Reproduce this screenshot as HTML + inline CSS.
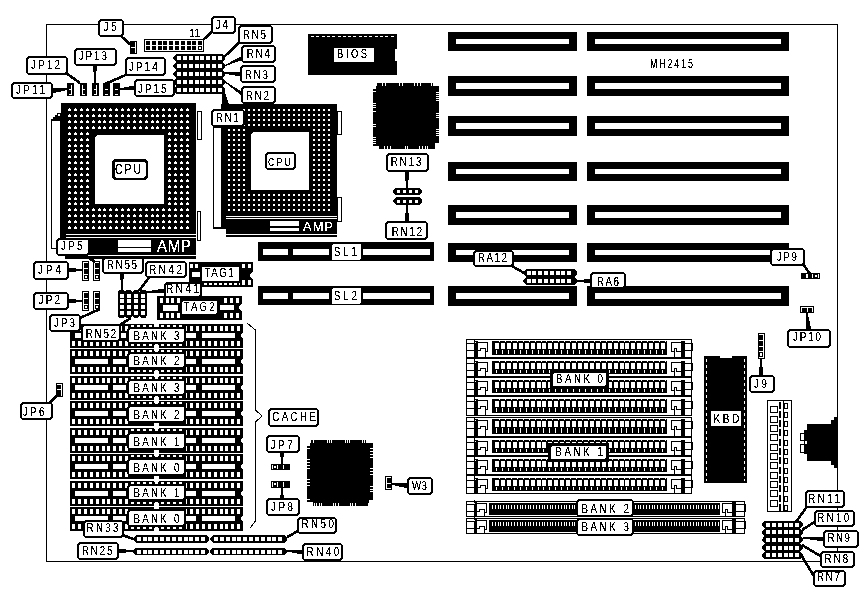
<!DOCTYPE html>
<html><head><meta charset="utf-8"><style>
html,body{margin:0;padding:0;background:#fff;}
body{width:868px;height:603px;overflow:hidden;}
svg{display:block;}
text{font-family:"Liberation Sans",sans-serif;filter:url(#th);}
</style></head><body>
<svg width="868" height="603" viewBox="0 0 868 603" shape-rendering="crispEdges">
<defs><filter id="th" x="-10%" y="-10%" width="120%" height="120%" color-interpolation-filters="sRGB"><feColorMatrix type="matrix" values="0 0 0 0 0  0 0 0 0 0  0 0 0 0 0  -0.333 -0.333 -0.333 1 0"/><feComponentTransfer><feFuncA type="discrete" tableValues="0 0 0 0 0 0 0 0 1 1 1 1 1 1 1 1 1 1 1 1"/></feComponentTransfer></filter>
<filter id="thw" x="-10%" y="-10%" width="120%" height="120%" color-interpolation-filters="sRGB"><feColorMatrix type="matrix" values="0 0 0 0 1  0 0 0 0 1  0 0 0 0 1  0 0 0 1 0"/><feComponentTransfer><feFuncA type="discrete" tableValues="0 0 0 0 0 0 0 0 1 1 1 1 1 1 1 1 1 1 1 1"/></feComponentTransfer></filter></defs>
<rect x="0" y="0" width="868" height="603" fill="#fff"/>
<rect x="46.5" y="24.5" width="791" height="537" fill="none" stroke="#000" stroke-width="1" rx="0"/>
<rect x="448" y="32" width="129" height="19" fill="#000"/>
<rect x="456" y="39" width="113" height="5" fill="#fff"/>
<rect x="587" y="32" width="202" height="19" fill="#000"/>
<rect x="595" y="39" width="186" height="5" fill="#fff"/>
<rect x="448" y="76" width="129" height="20" fill="#000"/>
<rect x="456" y="83" width="113" height="6" fill="#fff"/>
<rect x="587" y="76" width="202" height="20" fill="#000"/>
<rect x="595" y="83" width="186" height="6" fill="#fff"/>
<rect x="448" y="116" width="129" height="20" fill="#000"/>
<rect x="456" y="123" width="113" height="6" fill="#fff"/>
<rect x="587" y="116" width="202" height="20" fill="#000"/>
<rect x="595" y="123" width="186" height="6" fill="#fff"/>
<rect x="448" y="162" width="129" height="19" fill="#000"/>
<rect x="456" y="169" width="113" height="5" fill="#fff"/>
<rect x="587" y="162" width="202" height="19" fill="#000"/>
<rect x="595" y="169" width="186" height="5" fill="#fff"/>
<rect x="448" y="205" width="129" height="20" fill="#000"/>
<rect x="456" y="212" width="113" height="6" fill="#fff"/>
<rect x="587" y="205" width="202" height="20" fill="#000"/>
<rect x="595" y="212" width="186" height="6" fill="#fff"/>
<rect x="448" y="243" width="129" height="19" fill="#000"/>
<rect x="456" y="250" width="113" height="5" fill="#fff"/>
<rect x="587" y="243" width="202" height="19" fill="#000"/>
<rect x="595" y="250" width="186" height="5" fill="#fff"/>
<rect x="448" y="286" width="129" height="20" fill="#000"/>
<rect x="456" y="293" width="113" height="6" fill="#fff"/>
<rect x="587" y="286" width="202" height="20" fill="#000"/>
<rect x="595" y="293" width="186" height="6" fill="#fff"/>
<rect x="258" y="242" width="176" height="19" fill="#000"/>
<rect x="263" y="249" width="25" height="6" fill="#fff"/>
<rect x="293" y="249" width="36" height="6" fill="#fff"/>
<rect x="363" y="249" width="67" height="6" fill="#fff"/>
<rect x="332" y="244" width="29" height="16" rx="2" fill="#fff"/>
<text transform="matrix(0.75,0,0,1,334,256)" x="0" y="0" font-size="13" fill="#000" textLength="30.67" lengthAdjust="spacing">SL1</text>
<rect x="258" y="286" width="176" height="19" fill="#000"/>
<rect x="263" y="293" width="25" height="6" fill="#fff"/>
<rect x="293" y="293" width="36" height="6" fill="#fff"/>
<rect x="363" y="293" width="67" height="6" fill="#fff"/>
<rect x="332" y="288" width="29" height="16" rx="2" fill="#fff"/>
<text transform="matrix(0.75,0,0,1,334,300)" x="0" y="0" font-size="13" fill="#000" textLength="30.67" lengthAdjust="spacing">SL2</text>
<polygon points="51,119 53,119 53,117 55,117 55,115 57,115 57,113 61,113 61,240 51,240" fill="#000"/>
<rect x="52" y="121" width="8" height="119" fill="#fff"/>
<rect x="58" y="114" width="2" height="2" fill="#fff"/>
<polyline points="51.5,238 51.5,248.5 57,248.5" fill="none" stroke="#000" stroke-width="1" stroke-linejoin="miter"/>
<rect x="61" y="103" width="135" height="153" fill="#000"/>
<rect x="65" y="256" width="131" height="3" fill="#000"/>
<path d="M68 109h3v2h-3zM69 108h1v1h-1zM74 109h3v2h-3zM75 108h1v1h-1zM80 109h3v2h-3zM81 108h1v1h-1zM86 109h3v2h-3zM87 108h1v1h-1zM92 109h3v2h-3zM93 108h1v1h-1zM98 109h3v2h-3zM99 108h1v1h-1zM103 109h3v2h-3zM104 108h1v1h-1zM109 109h3v2h-3zM110 108h1v1h-1zM115 109h3v2h-3zM116 108h1v1h-1zM121 109h3v2h-3zM122 108h1v1h-1zM127 109h3v2h-3zM128 108h1v1h-1zM133 109h3v2h-3zM134 108h1v1h-1zM139 109h3v2h-3zM140 108h1v1h-1zM145 109h3v2h-3zM146 108h1v1h-1zM151 109h3v2h-3zM152 108h1v1h-1zM156 109h3v2h-3zM157 108h1v1h-1zM162 109h3v2h-3zM163 108h1v1h-1zM168 109h3v2h-3zM169 108h1v1h-1zM174 109h3v2h-3zM175 108h1v1h-1zM180 109h3v2h-3zM181 108h1v1h-1zM186 109h3v2h-3zM187 108h1v1h-1zM68 115h3v2h-3zM69 114h1v1h-1zM74 115h3v2h-3zM75 114h1v1h-1zM80 115h3v2h-3zM81 114h1v1h-1zM86 115h3v2h-3zM87 114h1v1h-1zM92 115h3v2h-3zM93 114h1v1h-1zM98 115h3v2h-3zM99 114h1v1h-1zM103 115h3v2h-3zM104 114h1v1h-1zM109 115h3v2h-3zM110 114h1v1h-1zM115 115h3v2h-3zM116 114h1v1h-1zM121 115h3v2h-3zM122 114h1v1h-1zM127 115h3v2h-3zM128 114h1v1h-1zM133 115h3v2h-3zM134 114h1v1h-1zM139 115h3v2h-3zM140 114h1v1h-1zM145 115h3v2h-3zM146 114h1v1h-1zM151 115h3v2h-3zM152 114h1v1h-1zM156 115h3v2h-3zM157 114h1v1h-1zM162 115h3v2h-3zM163 114h1v1h-1zM168 115h3v2h-3zM169 114h1v1h-1zM174 115h3v2h-3zM175 114h1v1h-1zM180 115h3v2h-3zM181 114h1v1h-1zM186 115h3v2h-3zM187 114h1v1h-1zM68 121h3v2h-3zM69 120h1v1h-1zM74 121h3v2h-3zM75 120h1v1h-1zM80 121h3v2h-3zM81 120h1v1h-1zM86 121h3v2h-3zM87 120h1v1h-1zM92 121h3v2h-3zM93 120h1v1h-1zM98 121h3v2h-3zM99 120h1v1h-1zM103 121h3v2h-3zM104 120h1v1h-1zM109 121h3v2h-3zM110 120h1v1h-1zM115 121h3v2h-3zM116 120h1v1h-1zM121 121h3v2h-3zM122 120h1v1h-1zM127 121h3v2h-3zM128 120h1v1h-1zM133 121h3v2h-3zM134 120h1v1h-1zM139 121h3v2h-3zM140 120h1v1h-1zM145 121h3v2h-3zM146 120h1v1h-1zM151 121h3v2h-3zM152 120h1v1h-1zM156 121h3v2h-3zM157 120h1v1h-1zM162 121h3v2h-3zM163 120h1v1h-1zM168 121h3v2h-3zM169 120h1v1h-1zM174 121h3v2h-3zM175 120h1v1h-1zM180 121h3v2h-3zM181 120h1v1h-1zM186 121h3v2h-3zM187 120h1v1h-1zM68 127h3v2h-3zM69 126h1v1h-1zM74 127h3v2h-3zM75 126h1v1h-1zM80 127h3v2h-3zM81 126h1v1h-1zM86 127h3v2h-3zM87 126h1v1h-1zM92 127h3v2h-3zM93 126h1v1h-1zM98 127h3v2h-3zM99 126h1v1h-1zM103 127h3v2h-3zM104 126h1v1h-1zM109 127h3v2h-3zM110 126h1v1h-1zM115 127h3v2h-3zM116 126h1v1h-1zM121 127h3v2h-3zM122 126h1v1h-1zM127 127h3v2h-3zM128 126h1v1h-1zM133 127h3v2h-3zM134 126h1v1h-1zM139 127h3v2h-3zM140 126h1v1h-1zM145 127h3v2h-3zM146 126h1v1h-1zM151 127h3v2h-3zM152 126h1v1h-1zM156 127h3v2h-3zM157 126h1v1h-1zM162 127h3v2h-3zM163 126h1v1h-1zM168 127h3v2h-3zM169 126h1v1h-1zM174 127h3v2h-3zM175 126h1v1h-1zM180 127h3v2h-3zM181 126h1v1h-1zM186 127h3v2h-3zM187 126h1v1h-1zM68 133h3v2h-3zM69 132h1v1h-1zM74 133h3v2h-3zM75 132h1v1h-1zM80 133h3v2h-3zM81 132h1v1h-1zM86 133h3v2h-3zM87 132h1v1h-1zM168 133h3v2h-3zM169 132h1v1h-1zM174 133h3v2h-3zM175 132h1v1h-1zM180 133h3v2h-3zM181 132h1v1h-1zM186 133h3v2h-3zM187 132h1v1h-1zM68 139h3v2h-3zM69 138h1v1h-1zM74 139h3v2h-3zM75 138h1v1h-1zM80 139h3v2h-3zM81 138h1v1h-1zM86 139h3v2h-3zM87 138h1v1h-1zM168 139h3v2h-3zM169 138h1v1h-1zM174 139h3v2h-3zM175 138h1v1h-1zM180 139h3v2h-3zM181 138h1v1h-1zM186 139h3v2h-3zM187 138h1v1h-1zM68 145h3v2h-3zM69 144h1v1h-1zM74 145h3v2h-3zM75 144h1v1h-1zM80 145h3v2h-3zM81 144h1v1h-1zM86 145h3v2h-3zM87 144h1v1h-1zM168 145h3v2h-3zM169 144h1v1h-1zM174 145h3v2h-3zM175 144h1v1h-1zM180 145h3v2h-3zM181 144h1v1h-1zM186 145h3v2h-3zM187 144h1v1h-1zM68 150h3v2h-3zM69 149h1v1h-1zM74 150h3v2h-3zM75 149h1v1h-1zM80 150h3v2h-3zM81 149h1v1h-1zM86 150h3v2h-3zM87 149h1v1h-1zM168 150h3v2h-3zM169 149h1v1h-1zM174 150h3v2h-3zM175 149h1v1h-1zM180 150h3v2h-3zM181 149h1v1h-1zM186 150h3v2h-3zM187 149h1v1h-1zM68 156h3v2h-3zM69 155h1v1h-1zM74 156h3v2h-3zM75 155h1v1h-1zM80 156h3v2h-3zM81 155h1v1h-1zM86 156h3v2h-3zM87 155h1v1h-1zM168 156h3v2h-3zM169 155h1v1h-1zM174 156h3v2h-3zM175 155h1v1h-1zM180 156h3v2h-3zM181 155h1v1h-1zM186 156h3v2h-3zM187 155h1v1h-1zM68 162h3v2h-3zM69 161h1v1h-1zM74 162h3v2h-3zM75 161h1v1h-1zM80 162h3v2h-3zM81 161h1v1h-1zM86 162h3v2h-3zM87 161h1v1h-1zM168 162h3v2h-3zM169 161h1v1h-1zM174 162h3v2h-3zM175 161h1v1h-1zM180 162h3v2h-3zM181 161h1v1h-1zM186 162h3v2h-3zM187 161h1v1h-1zM68 168h3v2h-3zM69 167h1v1h-1zM74 168h3v2h-3zM75 167h1v1h-1zM80 168h3v2h-3zM81 167h1v1h-1zM86 168h3v2h-3zM87 167h1v1h-1zM168 168h3v2h-3zM169 167h1v1h-1zM174 168h3v2h-3zM175 167h1v1h-1zM180 168h3v2h-3zM181 167h1v1h-1zM186 168h3v2h-3zM187 167h1v1h-1zM68 174h3v2h-3zM69 173h1v1h-1zM74 174h3v2h-3zM75 173h1v1h-1zM80 174h3v2h-3zM81 173h1v1h-1zM86 174h3v2h-3zM87 173h1v1h-1zM168 174h3v2h-3zM169 173h1v1h-1zM174 174h3v2h-3zM175 173h1v1h-1zM180 174h3v2h-3zM181 173h1v1h-1zM186 174h3v2h-3zM187 173h1v1h-1zM68 180h3v2h-3zM69 179h1v1h-1zM74 180h3v2h-3zM75 179h1v1h-1zM80 180h3v2h-3zM81 179h1v1h-1zM86 180h3v2h-3zM87 179h1v1h-1zM168 180h3v2h-3zM169 179h1v1h-1zM174 180h3v2h-3zM175 179h1v1h-1zM180 180h3v2h-3zM181 179h1v1h-1zM186 180h3v2h-3zM187 179h1v1h-1zM68 186h3v2h-3zM69 185h1v1h-1zM74 186h3v2h-3zM75 185h1v1h-1zM80 186h3v2h-3zM81 185h1v1h-1zM86 186h3v2h-3zM87 185h1v1h-1zM168 186h3v2h-3zM169 185h1v1h-1zM174 186h3v2h-3zM175 185h1v1h-1zM180 186h3v2h-3zM181 185h1v1h-1zM186 186h3v2h-3zM187 185h1v1h-1zM68 192h3v2h-3zM69 191h1v1h-1zM74 192h3v2h-3zM75 191h1v1h-1zM80 192h3v2h-3zM81 191h1v1h-1zM86 192h3v2h-3zM87 191h1v1h-1zM168 192h3v2h-3zM169 191h1v1h-1zM174 192h3v2h-3zM175 191h1v1h-1zM180 192h3v2h-3zM181 191h1v1h-1zM186 192h3v2h-3zM187 191h1v1h-1zM68 198h3v2h-3zM69 197h1v1h-1zM74 198h3v2h-3zM75 197h1v1h-1zM80 198h3v2h-3zM81 197h1v1h-1zM86 198h3v2h-3zM87 197h1v1h-1zM168 198h3v2h-3zM169 197h1v1h-1zM174 198h3v2h-3zM175 197h1v1h-1zM180 198h3v2h-3zM181 197h1v1h-1zM186 198h3v2h-3zM187 197h1v1h-1zM68 203h3v2h-3zM69 202h1v1h-1zM74 203h3v2h-3zM75 202h1v1h-1zM80 203h3v2h-3zM81 202h1v1h-1zM86 203h3v2h-3zM87 202h1v1h-1zM168 203h3v2h-3zM169 202h1v1h-1zM174 203h3v2h-3zM175 202h1v1h-1zM180 203h3v2h-3zM181 202h1v1h-1zM186 203h3v2h-3zM187 202h1v1h-1zM68 209h3v2h-3zM69 208h1v1h-1zM74 209h3v2h-3zM75 208h1v1h-1zM80 209h3v2h-3zM81 208h1v1h-1zM86 209h3v2h-3zM87 208h1v1h-1zM92 209h3v2h-3zM93 208h1v1h-1zM98 209h3v2h-3zM99 208h1v1h-1zM103 209h3v2h-3zM104 208h1v1h-1zM109 209h3v2h-3zM110 208h1v1h-1zM115 209h3v2h-3zM116 208h1v1h-1zM121 209h3v2h-3zM122 208h1v1h-1zM127 209h3v2h-3zM128 208h1v1h-1zM133 209h3v2h-3zM134 208h1v1h-1zM139 209h3v2h-3zM140 208h1v1h-1zM145 209h3v2h-3zM146 208h1v1h-1zM151 209h3v2h-3zM152 208h1v1h-1zM156 209h3v2h-3zM157 208h1v1h-1zM162 209h3v2h-3zM163 208h1v1h-1zM168 209h3v2h-3zM169 208h1v1h-1zM174 209h3v2h-3zM175 208h1v1h-1zM180 209h3v2h-3zM181 208h1v1h-1zM186 209h3v2h-3zM187 208h1v1h-1zM68 215h3v2h-3zM69 214h1v1h-1zM74 215h3v2h-3zM75 214h1v1h-1zM80 215h3v2h-3zM81 214h1v1h-1zM86 215h3v2h-3zM87 214h1v1h-1zM92 215h3v2h-3zM93 214h1v1h-1zM98 215h3v2h-3zM99 214h1v1h-1zM103 215h3v2h-3zM104 214h1v1h-1zM109 215h3v2h-3zM110 214h1v1h-1zM115 215h3v2h-3zM116 214h1v1h-1zM121 215h3v2h-3zM122 214h1v1h-1zM127 215h3v2h-3zM128 214h1v1h-1zM133 215h3v2h-3zM134 214h1v1h-1zM139 215h3v2h-3zM140 214h1v1h-1zM145 215h3v2h-3zM146 214h1v1h-1zM151 215h3v2h-3zM152 214h1v1h-1zM156 215h3v2h-3zM157 214h1v1h-1zM162 215h3v2h-3zM163 214h1v1h-1zM168 215h3v2h-3zM169 214h1v1h-1zM174 215h3v2h-3zM175 214h1v1h-1zM180 215h3v2h-3zM181 214h1v1h-1zM186 215h3v2h-3zM187 214h1v1h-1zM68 221h3v2h-3zM69 220h1v1h-1zM74 221h3v2h-3zM75 220h1v1h-1zM80 221h3v2h-3zM81 220h1v1h-1zM86 221h3v2h-3zM87 220h1v1h-1zM92 221h3v2h-3zM93 220h1v1h-1zM98 221h3v2h-3zM99 220h1v1h-1zM103 221h3v2h-3zM104 220h1v1h-1zM109 221h3v2h-3zM110 220h1v1h-1zM115 221h3v2h-3zM116 220h1v1h-1zM121 221h3v2h-3zM122 220h1v1h-1zM127 221h3v2h-3zM128 220h1v1h-1zM133 221h3v2h-3zM134 220h1v1h-1zM139 221h3v2h-3zM140 220h1v1h-1zM145 221h3v2h-3zM146 220h1v1h-1zM151 221h3v2h-3zM152 220h1v1h-1zM156 221h3v2h-3zM157 220h1v1h-1zM162 221h3v2h-3zM163 220h1v1h-1zM168 221h3v2h-3zM169 220h1v1h-1zM174 221h3v2h-3zM175 220h1v1h-1zM180 221h3v2h-3zM181 220h1v1h-1zM186 221h3v2h-3zM187 220h1v1h-1zM68 227h3v2h-3zM69 226h1v1h-1zM74 227h3v2h-3zM75 226h1v1h-1zM80 227h3v2h-3zM81 226h1v1h-1zM86 227h3v2h-3zM87 226h1v1h-1zM92 227h3v2h-3zM93 226h1v1h-1zM98 227h3v2h-3zM99 226h1v1h-1zM103 227h3v2h-3zM104 226h1v1h-1zM109 227h3v2h-3zM110 226h1v1h-1zM115 227h3v2h-3zM116 226h1v1h-1zM121 227h3v2h-3zM122 226h1v1h-1zM127 227h3v2h-3zM128 226h1v1h-1zM133 227h3v2h-3zM134 226h1v1h-1zM139 227h3v2h-3zM140 226h1v1h-1zM145 227h3v2h-3zM146 226h1v1h-1zM151 227h3v2h-3zM152 226h1v1h-1zM156 227h3v2h-3zM157 226h1v1h-1zM162 227h3v2h-3zM163 226h1v1h-1zM168 227h3v2h-3zM169 226h1v1h-1zM174 227h3v2h-3zM175 226h1v1h-1zM180 227h3v2h-3zM181 226h1v1h-1zM186 227h3v2h-3zM187 226h1v1h-1z" fill="#fff"/>
<rect x="95" y="135" width="69" height="69" fill="#fff"/>
<rect x="95" y="135" width="2" height="1" fill="#000"/>
<rect x="95" y="136" width="1" height="1" fill="#000"/>
<rect x="197.5" y="111.5" width="4" height="28" fill="#fff" stroke="#000" stroke-width="1" rx="1"/>
<rect x="197.5" y="211.5" width="3" height="29" fill="#fff" stroke="#000" stroke-width="1" rx="1"/>
<rect x="66" y="234" width="130" height="1" fill="#fff"/>
<rect x="66" y="237" width="130" height="1" fill="#fff"/>
<rect x="66" y="255" width="130" height="1" fill="#fff"/>
<rect x="118" y="240" width="33" height="7" fill="#fff"/>
<rect x="118" y="248" width="33" height="4" fill="#fff"/>
<text transform="matrix(0.95,0,0,1,157,251.6)" x="0" y="0" font-size="16" fill="#fff" style="filter:url(#thw)" textLength="35.79" lengthAdjust="spacing">AMP</text>
<rect x="213" y="126" width="13" height="103" fill="#000"/>
<rect x="214" y="128" width="7" height="99" fill="#fff"/>
<rect x="221" y="104" width="116" height="112" fill="#000"/>
<path d="M228 109h2v2h-2zM233 109h2v2h-2zM238 109h2v2h-2zM243 109h2v2h-2zM248 109h2v2h-2zM253 109h2v2h-2zM258 109h2v2h-2zM263 109h2v2h-2zM268 109h2v2h-2zM273 109h2v2h-2zM278 109h2v2h-2zM283 109h2v2h-2zM288 109h2v2h-2zM293 109h2v2h-2zM298 109h2v2h-2zM303 109h2v2h-2zM308 109h2v2h-2zM313 109h2v2h-2zM318 109h2v2h-2zM323 109h2v2h-2zM328 109h2v2h-2zM228 114h2v2h-2zM233 114h2v2h-2zM238 114h2v2h-2zM243 114h2v2h-2zM248 114h2v2h-2zM253 114h2v2h-2zM258 114h2v2h-2zM263 114h2v2h-2zM268 114h2v2h-2zM273 114h2v2h-2zM278 114h2v2h-2zM283 114h2v2h-2zM288 114h2v2h-2zM293 114h2v2h-2zM298 114h2v2h-2zM303 114h2v2h-2zM308 114h2v2h-2zM313 114h2v2h-2zM318 114h2v2h-2zM323 114h2v2h-2zM328 114h2v2h-2zM228 119h2v2h-2zM233 119h2v2h-2zM238 119h2v2h-2zM243 119h2v2h-2zM248 119h2v2h-2zM253 119h2v2h-2zM258 119h2v2h-2zM263 119h2v2h-2zM268 119h2v2h-2zM273 119h2v2h-2zM278 119h2v2h-2zM283 119h2v2h-2zM288 119h2v2h-2zM293 119h2v2h-2zM298 119h2v2h-2zM303 119h2v2h-2zM308 119h2v2h-2zM313 119h2v2h-2zM318 119h2v2h-2zM323 119h2v2h-2zM328 119h2v2h-2zM228 124h2v2h-2zM233 124h2v2h-2zM238 124h2v2h-2zM243 124h2v2h-2zM248 124h2v2h-2zM253 124h2v2h-2zM258 124h2v2h-2zM263 124h2v2h-2zM268 124h2v2h-2zM273 124h2v2h-2zM278 124h2v2h-2zM283 124h2v2h-2zM288 124h2v2h-2zM293 124h2v2h-2zM298 124h2v2h-2zM303 124h2v2h-2zM308 124h2v2h-2zM313 124h2v2h-2zM318 124h2v2h-2zM323 124h2v2h-2zM328 124h2v2h-2zM228 129h2v2h-2zM233 129h2v2h-2zM238 129h2v2h-2zM243 129h2v2h-2zM313 129h2v2h-2zM318 129h2v2h-2zM323 129h2v2h-2zM328 129h2v2h-2zM228 134h2v2h-2zM233 134h2v2h-2zM238 134h2v2h-2zM243 134h2v2h-2zM313 134h2v2h-2zM318 134h2v2h-2zM323 134h2v2h-2zM328 134h2v2h-2zM228 139h2v2h-2zM233 139h2v2h-2zM238 139h2v2h-2zM243 139h2v2h-2zM313 139h2v2h-2zM318 139h2v2h-2zM323 139h2v2h-2zM328 139h2v2h-2zM228 144h2v2h-2zM233 144h2v2h-2zM238 144h2v2h-2zM243 144h2v2h-2zM313 144h2v2h-2zM318 144h2v2h-2zM323 144h2v2h-2zM328 144h2v2h-2zM228 149h2v2h-2zM233 149h2v2h-2zM238 149h2v2h-2zM243 149h2v2h-2zM313 149h2v2h-2zM318 149h2v2h-2zM323 149h2v2h-2zM328 149h2v2h-2zM228 154h2v2h-2zM233 154h2v2h-2zM238 154h2v2h-2zM243 154h2v2h-2zM313 154h2v2h-2zM318 154h2v2h-2zM323 154h2v2h-2zM328 154h2v2h-2zM228 159h2v2h-2zM233 159h2v2h-2zM238 159h2v2h-2zM243 159h2v2h-2zM313 159h2v2h-2zM318 159h2v2h-2zM323 159h2v2h-2zM328 159h2v2h-2zM228 164h2v2h-2zM233 164h2v2h-2zM238 164h2v2h-2zM243 164h2v2h-2zM313 164h2v2h-2zM318 164h2v2h-2zM323 164h2v2h-2zM328 164h2v2h-2zM228 169h2v2h-2zM233 169h2v2h-2zM238 169h2v2h-2zM243 169h2v2h-2zM313 169h2v2h-2zM318 169h2v2h-2zM323 169h2v2h-2zM328 169h2v2h-2zM228 174h2v2h-2zM233 174h2v2h-2zM238 174h2v2h-2zM243 174h2v2h-2zM313 174h2v2h-2zM318 174h2v2h-2zM323 174h2v2h-2zM328 174h2v2h-2zM228 179h2v2h-2zM233 179h2v2h-2zM238 179h2v2h-2zM243 179h2v2h-2zM313 179h2v2h-2zM318 179h2v2h-2zM323 179h2v2h-2zM328 179h2v2h-2zM228 184h2v2h-2zM233 184h2v2h-2zM238 184h2v2h-2zM243 184h2v2h-2zM313 184h2v2h-2zM318 184h2v2h-2zM323 184h2v2h-2zM328 184h2v2h-2zM228 189h2v2h-2zM233 189h2v2h-2zM238 189h2v2h-2zM243 189h2v2h-2zM313 189h2v2h-2zM318 189h2v2h-2zM323 189h2v2h-2zM328 189h2v2h-2zM228 194h2v2h-2zM233 194h2v2h-2zM238 194h2v2h-2zM243 194h2v2h-2zM248 194h2v2h-2zM253 194h2v2h-2zM258 194h2v2h-2zM263 194h2v2h-2zM268 194h2v2h-2zM273 194h2v2h-2zM278 194h2v2h-2zM283 194h2v2h-2zM288 194h2v2h-2zM293 194h2v2h-2zM298 194h2v2h-2zM303 194h2v2h-2zM308 194h2v2h-2zM313 194h2v2h-2zM318 194h2v2h-2zM323 194h2v2h-2zM328 194h2v2h-2zM228 199h2v2h-2zM233 199h2v2h-2zM238 199h2v2h-2zM243 199h2v2h-2zM248 199h2v2h-2zM253 199h2v2h-2zM258 199h2v2h-2zM263 199h2v2h-2zM268 199h2v2h-2zM273 199h2v2h-2zM278 199h2v2h-2zM283 199h2v2h-2zM288 199h2v2h-2zM293 199h2v2h-2zM298 199h2v2h-2zM303 199h2v2h-2zM308 199h2v2h-2zM313 199h2v2h-2zM318 199h2v2h-2zM323 199h2v2h-2zM328 199h2v2h-2zM228 204h2v2h-2zM233 204h2v2h-2zM238 204h2v2h-2zM243 204h2v2h-2zM248 204h2v2h-2zM253 204h2v2h-2zM258 204h2v2h-2zM263 204h2v2h-2zM268 204h2v2h-2zM273 204h2v2h-2zM278 204h2v2h-2zM283 204h2v2h-2zM288 204h2v2h-2zM293 204h2v2h-2zM298 204h2v2h-2zM303 204h2v2h-2zM308 204h2v2h-2zM313 204h2v2h-2zM318 204h2v2h-2zM323 204h2v2h-2zM328 204h2v2h-2zM228 209h2v2h-2zM233 209h2v2h-2zM238 209h2v2h-2zM243 209h2v2h-2zM248 209h2v2h-2zM253 209h2v2h-2zM258 209h2v2h-2zM263 209h2v2h-2zM268 209h2v2h-2zM273 209h2v2h-2zM278 209h2v2h-2zM283 209h2v2h-2zM288 209h2v2h-2zM293 209h2v2h-2zM298 209h2v2h-2zM303 209h2v2h-2zM308 209h2v2h-2zM313 209h2v2h-2zM318 209h2v2h-2zM323 209h2v2h-2zM328 209h2v2h-2z" fill="#fff"/>
<rect x="251" y="132" width="58" height="58" fill="#fff"/>
<rect x="251" y="132" width="2" height="1" fill="#000"/>
<rect x="251" y="133" width="1" height="1" fill="#000"/>
<rect x="337.5" y="111.5" width="4" height="23" fill="#fff" stroke="#000" stroke-width="1" rx="1"/>
<rect x="337.5" y="197.5" width="4" height="24" fill="#fff" stroke="#000" stroke-width="1" rx="1"/>
<rect x="226" y="217" width="111" height="1" fill="#000"/>
<rect x="226" y="219" width="111" height="15" fill="#000"/>
<rect x="226" y="235" width="111" height="2" fill="#000"/>
<rect x="270" y="221" width="29" height="5" fill="#fff"/>
<rect x="270" y="228" width="29" height="3" fill="#fff"/>
<text transform="matrix(0.95,0,0,1,303,230.7)" x="0" y="0" font-size="13.5" fill="#fff" style="filter:url(#thw)" textLength="31.58" lengthAdjust="spacing">AMP</text>
<rect x="308" y="34" width="89" height="41" fill="#000"/>
<path d="M311 36.5 H396" stroke="#fff" stroke-width="1" stroke-dasharray="3 2.3"/>
<rect x="395" y="49" width="2" height="12" fill="#fff"/>
<rect x="334" y="48" width="40" height="14" fill="#fff"/>
<text transform="matrix(0.75,0,0,1,337,58)" x="0" y="0" font-size="12.5" fill="#000" textLength="40.00" lengthAdjust="spacing">BIOS</text>
<polygon points="377,83 433,83 433,86 439,86 439,143 435,143 435,149 379,149 379,146 373,146 373,89 376,89 376,86 377,86" fill="#000"/>
<path d="M382 83h1v3h-1zM385 83h1v3h-1zM399 83h1v3h-1zM402 83h1v3h-1zM414 83h1v3h-1zM417 83h1v3h-1zM420 83h1v3h-1zM431 83h1v3h-1zM384 146h1v3h-1zM387 146h1v3h-1zM390 146h1v3h-1zM405 146h1v3h-1zM407 146h1v3h-1zM419 146h1v3h-1zM422 146h1v3h-1zM425 146h1v3h-1zM427 146h1v3h-1zM373 91h3v1h-3zM373 103h3v1h-3zM373 105h3v1h-3zM373 107h3v1h-3zM373 111h3v1h-3zM373 124h3v1h-3zM373 126h3v1h-3zM373 137h3v1h-3zM373 139h3v1h-3zM373 141h3v1h-3zM373 143h3v1h-3zM436 92h3v1h-3zM436 94h3v1h-3zM436 96h3v1h-3zM436 98h3v1h-3zM436 100h3v1h-3zM436 113h3v1h-3zM436 115h3v1h-3zM436 117h3v1h-3zM436 129h3v1h-3zM436 131h3v1h-3zM436 133h3v1h-3zM436 135h3v1h-3z" fill="#fff"/>
<polygon points="311,440 367,440 367,443 373,443 373,500 369,500 369,506 313,506 313,502 307,502 307,446 310,446 310,443 311,443" fill="#000"/>
<path d="M313 440h1v3h-1zM327 440h1v3h-1zM329 440h1v3h-1zM331 440h1v3h-1zM345 440h1v3h-1zM347 440h1v3h-1zM349 440h1v3h-1zM362 440h1v3h-1zM364 440h1v3h-1zM366 440h1v3h-1zM314 503h1v3h-1zM316 503h1v3h-1zM319 503h1v3h-1zM321 503h1v3h-1zM333 503h1v3h-1zM335 503h1v3h-1zM338 503h1v3h-1zM350 503h1v3h-1zM352 503h1v3h-1zM355 503h1v3h-1zM368 503h1v3h-1zM307 448h3v1h-3zM307 459h3v1h-3zM307 462h3v1h-3zM307 465h3v1h-3zM307 468h3v1h-3zM307 479h3v1h-3zM307 482h3v1h-3zM307 485h3v1h-3zM307 499h3v1h-3zM370 448h3v1h-3zM370 451h3v1h-3zM370 454h3v1h-3zM370 457h3v1h-3zM370 468h3v1h-3zM370 471h3v1h-3zM370 474h3v1h-3zM370 486h3v1h-3zM370 489h3v1h-3zM370 491h3v1h-3z" fill="#fff"/>
<rect x="704" y="356" width="43" height="127" fill="#000"/>
<rect x="720" y="356" width="12" height="2" fill="#fff"/>
<path d="M706.5 359 V481 M744.5 359 V481" stroke="#fff" stroke-width="1" stroke-dasharray="3 3"/>
<rect x="711" y="411" width="30" height="15" fill="#fff"/>
<text transform="matrix(0.75,0,0,1,713.4,423)" x="0" y="0" font-size="13.5" fill="#000" textLength="34.67" lengthAdjust="spacing">KBD</text>
<rect x="70" y="324" width="173" height="24" fill="#000"/>
<path d="M72 326h3v5h-3zM72 341h3v5h-3zM78 326h3v5h-3zM78 341h3v5h-3zM84 326h3v5h-3zM84 341h3v5h-3zM90 326h3v5h-3zM90 341h3v5h-3zM96 326h3v5h-3zM96 341h3v5h-3zM102 326h3v5h-3zM102 341h3v5h-3zM107 326h3v5h-3zM107 341h3v5h-3zM113 326h3v5h-3zM113 341h3v5h-3zM119 326h3v5h-3zM119 341h3v5h-3zM125 326h3v5h-3zM125 341h3v5h-3zM131 326h3v5h-3zM131 341h3v5h-3zM137 326h3v5h-3zM137 341h3v5h-3zM143 326h3v5h-3zM143 341h3v5h-3zM149 326h3v5h-3zM149 341h3v5h-3zM155 326h3v5h-3zM155 341h3v5h-3zM160 326h3v5h-3zM160 341h3v5h-3zM166 326h3v5h-3zM166 341h3v5h-3zM172 326h3v5h-3zM172 341h3v5h-3zM178 326h3v5h-3zM178 341h3v5h-3zM184 326h3v5h-3zM184 341h3v5h-3zM190 326h3v5h-3zM190 341h3v5h-3zM196 326h3v5h-3zM196 341h3v5h-3zM202 326h3v5h-3zM202 341h3v5h-3zM208 326h3v5h-3zM208 341h3v5h-3zM214 326h3v5h-3zM214 341h3v5h-3zM220 326h3v5h-3zM220 341h3v5h-3zM225 326h3v5h-3zM225 341h3v5h-3zM231 326h3v5h-3zM231 341h3v5h-3zM237 326h3v5h-3zM237 341h3v5h-3z" fill="#fff"/>
<rect x="75" y="333" width="33" height="5" fill="#fff"/>
<rect x="113" y="333" width="13" height="5" fill="#fff"/>
<rect x="186" y="333" width="10" height="5" fill="#fff"/>
<rect x="202" y="333" width="33" height="5" fill="#fff"/>
<polygon points="243,332 241,334 241,337 243,339" fill="#fff"/>
<rect x="128" y="325" width="58" height="22" fill="#000"/>
<rect x="131" y="325" width="3" height="2" fill="#fff"/>
<rect x="131" y="344" width="3" height="2" fill="#fff"/>
<rect x="137" y="325" width="3" height="2" fill="#fff"/>
<rect x="137" y="344" width="3" height="2" fill="#fff"/>
<rect x="143" y="325" width="3" height="2" fill="#fff"/>
<rect x="143" y="344" width="3" height="2" fill="#fff"/>
<rect x="149" y="325" width="3" height="2" fill="#fff"/>
<rect x="149" y="344" width="3" height="2" fill="#fff"/>
<rect x="155" y="325" width="3" height="2" fill="#fff"/>
<rect x="155" y="344" width="3" height="2" fill="#fff"/>
<rect x="161" y="325" width="3" height="2" fill="#fff"/>
<rect x="161" y="344" width="3" height="2" fill="#fff"/>
<rect x="167" y="325" width="3" height="2" fill="#fff"/>
<rect x="167" y="344" width="3" height="2" fill="#fff"/>
<rect x="173" y="325" width="3" height="2" fill="#fff"/>
<rect x="173" y="344" width="3" height="2" fill="#fff"/>
<rect x="179" y="325" width="3" height="2" fill="#fff"/>
<rect x="179" y="344" width="3" height="2" fill="#fff"/>
<rect x="128.0" y="328.0" width="57" height="15" fill="#fff" stroke="#000" stroke-width="2" rx="3"/>
<text transform="matrix(0.75,0,0,1,133.5,339.6)" x="0" y="0" font-size="13" fill="#000" textLength="61.33" lengthAdjust="spacing">BANK 3</text>
<rect x="70" y="349" width="173" height="25" fill="#000"/>
<path d="M72 351h3v5h-3zM72 367h3v5h-3zM78 351h3v5h-3zM78 367h3v5h-3zM84 351h3v5h-3zM84 367h3v5h-3zM90 351h3v5h-3zM90 367h3v5h-3zM96 351h3v5h-3zM96 367h3v5h-3zM102 351h3v5h-3zM102 367h3v5h-3zM107 351h3v5h-3zM107 367h3v5h-3zM113 351h3v5h-3zM113 367h3v5h-3zM119 351h3v5h-3zM119 367h3v5h-3zM125 351h3v5h-3zM125 367h3v5h-3zM131 351h3v5h-3zM131 367h3v5h-3zM137 351h3v5h-3zM137 367h3v5h-3zM143 351h3v5h-3zM143 367h3v5h-3zM149 351h3v5h-3zM149 367h3v5h-3zM155 351h3v5h-3zM155 367h3v5h-3zM160 351h3v5h-3zM160 367h3v5h-3zM166 351h3v5h-3zM166 367h3v5h-3zM172 351h3v5h-3zM172 367h3v5h-3zM178 351h3v5h-3zM178 367h3v5h-3zM184 351h3v5h-3zM184 367h3v5h-3zM190 351h3v5h-3zM190 367h3v5h-3zM196 351h3v5h-3zM196 367h3v5h-3zM202 351h3v5h-3zM202 367h3v5h-3zM208 351h3v5h-3zM208 367h3v5h-3zM214 351h3v5h-3zM214 367h3v5h-3zM220 351h3v5h-3zM220 367h3v5h-3zM225 351h3v5h-3zM225 367h3v5h-3zM231 351h3v5h-3zM231 367h3v5h-3zM237 351h3v5h-3zM237 367h3v5h-3z" fill="#fff"/>
<rect x="75" y="359" width="33" height="5" fill="#fff"/>
<rect x="113" y="359" width="13" height="5" fill="#fff"/>
<rect x="186" y="359" width="10" height="5" fill="#fff"/>
<rect x="202" y="359" width="33" height="5" fill="#fff"/>
<polygon points="243,358 241,360 241,363 243,365" fill="#fff"/>
<rect x="128" y="350" width="58" height="23" fill="#000"/>
<rect x="131" y="350" width="3" height="2" fill="#fff"/>
<rect x="131" y="370" width="3" height="2" fill="#fff"/>
<rect x="137" y="350" width="3" height="2" fill="#fff"/>
<rect x="137" y="370" width="3" height="2" fill="#fff"/>
<rect x="143" y="350" width="3" height="2" fill="#fff"/>
<rect x="143" y="370" width="3" height="2" fill="#fff"/>
<rect x="149" y="350" width="3" height="2" fill="#fff"/>
<rect x="149" y="370" width="3" height="2" fill="#fff"/>
<rect x="155" y="350" width="3" height="2" fill="#fff"/>
<rect x="155" y="370" width="3" height="2" fill="#fff"/>
<rect x="161" y="350" width="3" height="2" fill="#fff"/>
<rect x="161" y="370" width="3" height="2" fill="#fff"/>
<rect x="167" y="350" width="3" height="2" fill="#fff"/>
<rect x="167" y="370" width="3" height="2" fill="#fff"/>
<rect x="173" y="350" width="3" height="2" fill="#fff"/>
<rect x="173" y="370" width="3" height="2" fill="#fff"/>
<rect x="179" y="350" width="3" height="2" fill="#fff"/>
<rect x="179" y="370" width="3" height="2" fill="#fff"/>
<rect x="128.0" y="353.0" width="57" height="15" fill="#fff" stroke="#000" stroke-width="2" rx="3"/>
<text transform="matrix(0.75,0,0,1,133.5,364.6)" x="0" y="0" font-size="13" fill="#000" textLength="61.33" lengthAdjust="spacing">BANK 2</text>
<rect x="70" y="376" width="173" height="24" fill="#000"/>
<path d="M72 378h3v5h-3zM72 393h3v5h-3zM78 378h3v5h-3zM78 393h3v5h-3zM84 378h3v5h-3zM84 393h3v5h-3zM90 378h3v5h-3zM90 393h3v5h-3zM96 378h3v5h-3zM96 393h3v5h-3zM102 378h3v5h-3zM102 393h3v5h-3zM107 378h3v5h-3zM107 393h3v5h-3zM113 378h3v5h-3zM113 393h3v5h-3zM119 378h3v5h-3zM119 393h3v5h-3zM125 378h3v5h-3zM125 393h3v5h-3zM131 378h3v5h-3zM131 393h3v5h-3zM137 378h3v5h-3zM137 393h3v5h-3zM143 378h3v5h-3zM143 393h3v5h-3zM149 378h3v5h-3zM149 393h3v5h-3zM155 378h3v5h-3zM155 393h3v5h-3zM160 378h3v5h-3zM160 393h3v5h-3zM166 378h3v5h-3zM166 393h3v5h-3zM172 378h3v5h-3zM172 393h3v5h-3zM178 378h3v5h-3zM178 393h3v5h-3zM184 378h3v5h-3zM184 393h3v5h-3zM190 378h3v5h-3zM190 393h3v5h-3zM196 378h3v5h-3zM196 393h3v5h-3zM202 378h3v5h-3zM202 393h3v5h-3zM208 378h3v5h-3zM208 393h3v5h-3zM214 378h3v5h-3zM214 393h3v5h-3zM220 378h3v5h-3zM220 393h3v5h-3zM225 378h3v5h-3zM225 393h3v5h-3zM231 378h3v5h-3zM231 393h3v5h-3zM237 378h3v5h-3zM237 393h3v5h-3z" fill="#fff"/>
<rect x="75" y="385" width="33" height="5" fill="#fff"/>
<rect x="113" y="385" width="13" height="5" fill="#fff"/>
<rect x="186" y="385" width="10" height="5" fill="#fff"/>
<rect x="202" y="385" width="33" height="5" fill="#fff"/>
<polygon points="243,384 241,386 241,389 243,391" fill="#fff"/>
<rect x="128" y="377" width="58" height="22" fill="#000"/>
<rect x="131" y="377" width="3" height="2" fill="#fff"/>
<rect x="131" y="396" width="3" height="2" fill="#fff"/>
<rect x="137" y="377" width="3" height="2" fill="#fff"/>
<rect x="137" y="396" width="3" height="2" fill="#fff"/>
<rect x="143" y="377" width="3" height="2" fill="#fff"/>
<rect x="143" y="396" width="3" height="2" fill="#fff"/>
<rect x="149" y="377" width="3" height="2" fill="#fff"/>
<rect x="149" y="396" width="3" height="2" fill="#fff"/>
<rect x="155" y="377" width="3" height="2" fill="#fff"/>
<rect x="155" y="396" width="3" height="2" fill="#fff"/>
<rect x="161" y="377" width="3" height="2" fill="#fff"/>
<rect x="161" y="396" width="3" height="2" fill="#fff"/>
<rect x="167" y="377" width="3" height="2" fill="#fff"/>
<rect x="167" y="396" width="3" height="2" fill="#fff"/>
<rect x="173" y="377" width="3" height="2" fill="#fff"/>
<rect x="173" y="396" width="3" height="2" fill="#fff"/>
<rect x="179" y="377" width="3" height="2" fill="#fff"/>
<rect x="179" y="396" width="3" height="2" fill="#fff"/>
<rect x="128.0" y="380.0" width="57" height="15" fill="#fff" stroke="#000" stroke-width="2" rx="3"/>
<text transform="matrix(0.75,0,0,1,133.5,391.6)" x="0" y="0" font-size="13" fill="#000" textLength="61.33" lengthAdjust="spacing">BANK 3</text>
<rect x="70" y="401" width="173" height="25" fill="#000"/>
<path d="M72 403h3v5h-3zM72 419h3v5h-3zM78 403h3v5h-3zM78 419h3v5h-3zM84 403h3v5h-3zM84 419h3v5h-3zM90 403h3v5h-3zM90 419h3v5h-3zM96 403h3v5h-3zM96 419h3v5h-3zM102 403h3v5h-3zM102 419h3v5h-3zM107 403h3v5h-3zM107 419h3v5h-3zM113 403h3v5h-3zM113 419h3v5h-3zM119 403h3v5h-3zM119 419h3v5h-3zM125 403h3v5h-3zM125 419h3v5h-3zM131 403h3v5h-3zM131 419h3v5h-3zM137 403h3v5h-3zM137 419h3v5h-3zM143 403h3v5h-3zM143 419h3v5h-3zM149 403h3v5h-3zM149 419h3v5h-3zM155 403h3v5h-3zM155 419h3v5h-3zM160 403h3v5h-3zM160 419h3v5h-3zM166 403h3v5h-3zM166 419h3v5h-3zM172 403h3v5h-3zM172 419h3v5h-3zM178 403h3v5h-3zM178 419h3v5h-3zM184 403h3v5h-3zM184 419h3v5h-3zM190 403h3v5h-3zM190 419h3v5h-3zM196 403h3v5h-3zM196 419h3v5h-3zM202 403h3v5h-3zM202 419h3v5h-3zM208 403h3v5h-3zM208 419h3v5h-3zM214 403h3v5h-3zM214 419h3v5h-3zM220 403h3v5h-3zM220 419h3v5h-3zM225 403h3v5h-3zM225 419h3v5h-3zM231 403h3v5h-3zM231 419h3v5h-3zM237 403h3v5h-3zM237 419h3v5h-3z" fill="#fff"/>
<rect x="75" y="411" width="33" height="5" fill="#fff"/>
<rect x="113" y="411" width="13" height="5" fill="#fff"/>
<rect x="186" y="411" width="10" height="5" fill="#fff"/>
<rect x="202" y="411" width="33" height="5" fill="#fff"/>
<polygon points="243,410 241,412 241,415 243,417" fill="#fff"/>
<rect x="128" y="402" width="58" height="23" fill="#000"/>
<rect x="131" y="402" width="3" height="2" fill="#fff"/>
<rect x="137" y="402" width="3" height="2" fill="#fff"/>
<rect x="143" y="402" width="3" height="2" fill="#fff"/>
<rect x="149" y="402" width="3" height="2" fill="#fff"/>
<rect x="155" y="402" width="3" height="2" fill="#fff"/>
<rect x="161" y="402" width="3" height="2" fill="#fff"/>
<rect x="167" y="402" width="3" height="2" fill="#fff"/>
<rect x="173" y="402" width="3" height="2" fill="#fff"/>
<rect x="179" y="402" width="3" height="2" fill="#fff"/>
<rect x="128.0" y="406.0" width="57" height="16" fill="#fff" stroke="#000" stroke-width="2" rx="3"/>
<text transform="matrix(0.75,0,0,1,133.5,418.6)" x="0" y="0" font-size="13" fill="#000" textLength="61.33" lengthAdjust="spacing">BANK 2</text>
<rect x="70" y="428" width="173" height="25" fill="#000"/>
<path d="M72 430h3v5h-3zM72 446h3v5h-3zM78 430h3v5h-3zM78 446h3v5h-3zM84 430h3v5h-3zM84 446h3v5h-3zM90 430h3v5h-3zM90 446h3v5h-3zM96 430h3v5h-3zM96 446h3v5h-3zM102 430h3v5h-3zM102 446h3v5h-3zM107 430h3v5h-3zM107 446h3v5h-3zM113 430h3v5h-3zM113 446h3v5h-3zM119 430h3v5h-3zM119 446h3v5h-3zM125 430h3v5h-3zM125 446h3v5h-3zM131 430h3v5h-3zM131 446h3v5h-3zM137 430h3v5h-3zM137 446h3v5h-3zM143 430h3v5h-3zM143 446h3v5h-3zM149 430h3v5h-3zM149 446h3v5h-3zM155 430h3v5h-3zM155 446h3v5h-3zM160 430h3v5h-3zM160 446h3v5h-3zM166 430h3v5h-3zM166 446h3v5h-3zM172 430h3v5h-3zM172 446h3v5h-3zM178 430h3v5h-3zM178 446h3v5h-3zM184 430h3v5h-3zM184 446h3v5h-3zM190 430h3v5h-3zM190 446h3v5h-3zM196 430h3v5h-3zM196 446h3v5h-3zM202 430h3v5h-3zM202 446h3v5h-3zM208 430h3v5h-3zM208 446h3v5h-3zM214 430h3v5h-3zM214 446h3v5h-3zM220 430h3v5h-3zM220 446h3v5h-3zM225 430h3v5h-3zM225 446h3v5h-3zM231 430h3v5h-3zM231 446h3v5h-3zM237 430h3v5h-3zM237 446h3v5h-3z" fill="#fff"/>
<rect x="75" y="438" width="33" height="5" fill="#fff"/>
<rect x="113" y="438" width="13" height="5" fill="#fff"/>
<rect x="186" y="438" width="10" height="5" fill="#fff"/>
<rect x="202" y="438" width="33" height="5" fill="#fff"/>
<polygon points="243,437 241,439 241,442 243,444" fill="#fff"/>
<rect x="128" y="429" width="58" height="23" fill="#000"/>
<rect x="131" y="429" width="3" height="2" fill="#fff"/>
<rect x="137" y="429" width="3" height="2" fill="#fff"/>
<rect x="143" y="429" width="3" height="2" fill="#fff"/>
<rect x="149" y="429" width="3" height="2" fill="#fff"/>
<rect x="155" y="429" width="3" height="2" fill="#fff"/>
<rect x="161" y="429" width="3" height="2" fill="#fff"/>
<rect x="167" y="429" width="3" height="2" fill="#fff"/>
<rect x="173" y="429" width="3" height="2" fill="#fff"/>
<rect x="179" y="429" width="3" height="2" fill="#fff"/>
<rect x="128.0" y="433.0" width="57" height="16" fill="#fff" stroke="#000" stroke-width="2" rx="3"/>
<text transform="matrix(0.75,0,0,1,133.5,445.6)" x="0" y="0" font-size="13" fill="#000" textLength="61.33" lengthAdjust="spacing">BANK 1</text>
<rect x="70" y="454" width="173" height="25" fill="#000"/>
<path d="M72 456h3v5h-3zM72 472h3v5h-3zM78 456h3v5h-3zM78 472h3v5h-3zM84 456h3v5h-3zM84 472h3v5h-3zM90 456h3v5h-3zM90 472h3v5h-3zM96 456h3v5h-3zM96 472h3v5h-3zM102 456h3v5h-3zM102 472h3v5h-3zM107 456h3v5h-3zM107 472h3v5h-3zM113 456h3v5h-3zM113 472h3v5h-3zM119 456h3v5h-3zM119 472h3v5h-3zM125 456h3v5h-3zM125 472h3v5h-3zM131 456h3v5h-3zM131 472h3v5h-3zM137 456h3v5h-3zM137 472h3v5h-3zM143 456h3v5h-3zM143 472h3v5h-3zM149 456h3v5h-3zM149 472h3v5h-3zM155 456h3v5h-3zM155 472h3v5h-3zM160 456h3v5h-3zM160 472h3v5h-3zM166 456h3v5h-3zM166 472h3v5h-3zM172 456h3v5h-3zM172 472h3v5h-3zM178 456h3v5h-3zM178 472h3v5h-3zM184 456h3v5h-3zM184 472h3v5h-3zM190 456h3v5h-3zM190 472h3v5h-3zM196 456h3v5h-3zM196 472h3v5h-3zM202 456h3v5h-3zM202 472h3v5h-3zM208 456h3v5h-3zM208 472h3v5h-3zM214 456h3v5h-3zM214 472h3v5h-3zM220 456h3v5h-3zM220 472h3v5h-3zM225 456h3v5h-3zM225 472h3v5h-3zM231 456h3v5h-3zM231 472h3v5h-3zM237 456h3v5h-3zM237 472h3v5h-3z" fill="#fff"/>
<rect x="75" y="464" width="33" height="5" fill="#fff"/>
<rect x="113" y="464" width="13" height="5" fill="#fff"/>
<rect x="186" y="464" width="10" height="5" fill="#fff"/>
<rect x="202" y="464" width="33" height="5" fill="#fff"/>
<polygon points="243,463 241,465 241,468 243,470" fill="#fff"/>
<rect x="128" y="455" width="58" height="23" fill="#000"/>
<rect x="131" y="455" width="3" height="2" fill="#fff"/>
<rect x="137" y="455" width="3" height="2" fill="#fff"/>
<rect x="143" y="455" width="3" height="2" fill="#fff"/>
<rect x="149" y="455" width="3" height="2" fill="#fff"/>
<rect x="155" y="455" width="3" height="2" fill="#fff"/>
<rect x="161" y="455" width="3" height="2" fill="#fff"/>
<rect x="167" y="455" width="3" height="2" fill="#fff"/>
<rect x="173" y="455" width="3" height="2" fill="#fff"/>
<rect x="179" y="455" width="3" height="2" fill="#fff"/>
<rect x="128.0" y="459.0" width="57" height="16" fill="#fff" stroke="#000" stroke-width="2" rx="3"/>
<text transform="matrix(0.75,0,0,1,133.5,471.6)" x="0" y="0" font-size="13" fill="#000" textLength="61.33" lengthAdjust="spacing">BANK 0</text>
<rect x="70" y="481" width="173" height="25" fill="#000"/>
<path d="M72 483h3v5h-3zM72 499h3v5h-3zM78 483h3v5h-3zM78 499h3v5h-3zM84 483h3v5h-3zM84 499h3v5h-3zM90 483h3v5h-3zM90 499h3v5h-3zM96 483h3v5h-3zM96 499h3v5h-3zM102 483h3v5h-3zM102 499h3v5h-3zM107 483h3v5h-3zM107 499h3v5h-3zM113 483h3v5h-3zM113 499h3v5h-3zM119 483h3v5h-3zM119 499h3v5h-3zM125 483h3v5h-3zM125 499h3v5h-3zM131 483h3v5h-3zM131 499h3v5h-3zM137 483h3v5h-3zM137 499h3v5h-3zM143 483h3v5h-3zM143 499h3v5h-3zM149 483h3v5h-3zM149 499h3v5h-3zM155 483h3v5h-3zM155 499h3v5h-3zM160 483h3v5h-3zM160 499h3v5h-3zM166 483h3v5h-3zM166 499h3v5h-3zM172 483h3v5h-3zM172 499h3v5h-3zM178 483h3v5h-3zM178 499h3v5h-3zM184 483h3v5h-3zM184 499h3v5h-3zM190 483h3v5h-3zM190 499h3v5h-3zM196 483h3v5h-3zM196 499h3v5h-3zM202 483h3v5h-3zM202 499h3v5h-3zM208 483h3v5h-3zM208 499h3v5h-3zM214 483h3v5h-3zM214 499h3v5h-3zM220 483h3v5h-3zM220 499h3v5h-3zM225 483h3v5h-3zM225 499h3v5h-3zM231 483h3v5h-3zM231 499h3v5h-3zM237 483h3v5h-3zM237 499h3v5h-3z" fill="#fff"/>
<rect x="75" y="491" width="33" height="5" fill="#fff"/>
<rect x="113" y="491" width="13" height="5" fill="#fff"/>
<rect x="186" y="491" width="10" height="5" fill="#fff"/>
<rect x="202" y="491" width="33" height="5" fill="#fff"/>
<polygon points="243,490 241,492 241,495 243,497" fill="#fff"/>
<rect x="128" y="482" width="58" height="23" fill="#000"/>
<rect x="131" y="482" width="3" height="2" fill="#fff"/>
<rect x="131" y="502" width="3" height="2" fill="#fff"/>
<rect x="137" y="482" width="3" height="2" fill="#fff"/>
<rect x="137" y="502" width="3" height="2" fill="#fff"/>
<rect x="143" y="482" width="3" height="2" fill="#fff"/>
<rect x="143" y="502" width="3" height="2" fill="#fff"/>
<rect x="149" y="482" width="3" height="2" fill="#fff"/>
<rect x="149" y="502" width="3" height="2" fill="#fff"/>
<rect x="155" y="482" width="3" height="2" fill="#fff"/>
<rect x="155" y="502" width="3" height="2" fill="#fff"/>
<rect x="161" y="482" width="3" height="2" fill="#fff"/>
<rect x="161" y="502" width="3" height="2" fill="#fff"/>
<rect x="167" y="482" width="3" height="2" fill="#fff"/>
<rect x="167" y="502" width="3" height="2" fill="#fff"/>
<rect x="173" y="482" width="3" height="2" fill="#fff"/>
<rect x="173" y="502" width="3" height="2" fill="#fff"/>
<rect x="179" y="482" width="3" height="2" fill="#fff"/>
<rect x="179" y="502" width="3" height="2" fill="#fff"/>
<rect x="128.0" y="485.0" width="57" height="15" fill="#fff" stroke="#000" stroke-width="2" rx="3"/>
<text transform="matrix(0.75,0,0,1,133.5,496.6)" x="0" y="0" font-size="13" fill="#000" textLength="61.33" lengthAdjust="spacing">BANK 1</text>
<rect x="70" y="507" width="173" height="24" fill="#000"/>
<path d="M72 509h3v5h-3zM72 524h3v5h-3zM78 509h3v5h-3zM78 524h3v5h-3zM84 509h3v5h-3zM84 524h3v5h-3zM90 509h3v5h-3zM90 524h3v5h-3zM96 509h3v5h-3zM96 524h3v5h-3zM102 509h3v5h-3zM102 524h3v5h-3zM107 509h3v5h-3zM107 524h3v5h-3zM113 509h3v5h-3zM113 524h3v5h-3zM119 509h3v5h-3zM119 524h3v5h-3zM125 509h3v5h-3zM125 524h3v5h-3zM131 509h3v5h-3zM131 524h3v5h-3zM137 509h3v5h-3zM137 524h3v5h-3zM143 509h3v5h-3zM143 524h3v5h-3zM149 509h3v5h-3zM149 524h3v5h-3zM155 509h3v5h-3zM155 524h3v5h-3zM160 509h3v5h-3zM160 524h3v5h-3zM166 509h3v5h-3zM166 524h3v5h-3zM172 509h3v5h-3zM172 524h3v5h-3zM178 509h3v5h-3zM178 524h3v5h-3zM184 509h3v5h-3zM184 524h3v5h-3zM190 509h3v5h-3zM190 524h3v5h-3zM196 509h3v5h-3zM196 524h3v5h-3zM202 509h3v5h-3zM202 524h3v5h-3zM208 509h3v5h-3zM208 524h3v5h-3zM214 509h3v5h-3zM214 524h3v5h-3zM220 509h3v5h-3zM220 524h3v5h-3zM225 509h3v5h-3zM225 524h3v5h-3zM231 509h3v5h-3zM231 524h3v5h-3zM237 509h3v5h-3zM237 524h3v5h-3z" fill="#fff"/>
<rect x="75" y="516" width="33" height="5" fill="#fff"/>
<rect x="113" y="516" width="13" height="5" fill="#fff"/>
<rect x="186" y="516" width="10" height="5" fill="#fff"/>
<rect x="202" y="516" width="33" height="5" fill="#fff"/>
<polygon points="243,515 241,517 241,520 243,522" fill="#fff"/>
<rect x="128" y="508" width="58" height="22" fill="#000"/>
<rect x="131" y="527" width="3" height="2" fill="#fff"/>
<rect x="137" y="527" width="3" height="2" fill="#fff"/>
<rect x="143" y="527" width="3" height="2" fill="#fff"/>
<rect x="149" y="527" width="3" height="2" fill="#fff"/>
<rect x="155" y="527" width="3" height="2" fill="#fff"/>
<rect x="161" y="527" width="3" height="2" fill="#fff"/>
<rect x="167" y="527" width="3" height="2" fill="#fff"/>
<rect x="173" y="527" width="3" height="2" fill="#fff"/>
<rect x="179" y="527" width="3" height="2" fill="#fff"/>
<rect x="128.0" y="510.0" width="57" height="16" fill="#fff" stroke="#000" stroke-width="2" rx="3"/>
<text transform="matrix(0.75,0,0,1,133.5,522.6)" x="0" y="0" font-size="13" fill="#000" textLength="61.33" lengthAdjust="spacing">BANK 0</text>
<rect x="154" y="345" width="5" height="6" fill="#fff"/>
<rect x="154" y="371" width="5" height="6" fill="#fff"/>
<rect x="154" y="397" width="5" height="6" fill="#fff"/>
<rect x="154" y="423" width="5" height="6" fill="#fff"/>
<rect x="154" y="450" width="5" height="6" fill="#fff"/>
<rect x="154" y="476" width="5" height="6" fill="#fff"/>
<rect x="154" y="503" width="5" height="6" fill="#fff"/>
<rect x="154" y="324" width="5" height="3" fill="#fff"/>
<rect x="154" y="528" width="5" height="3" fill="#fff"/>
<rect x="189" y="262" width="64" height="25" fill="#000"/>
<rect x="190" y="264" width="3" height="4" fill="#fff"/>
<rect x="195" y="264" width="3" height="4" fill="#fff"/>
<rect x="242" y="264" width="3" height="4" fill="#fff"/>
<rect x="248" y="264" width="3" height="4" fill="#fff"/>
<rect x="242" y="280" width="3" height="5" fill="#fff"/>
<rect x="248" y="280" width="3" height="5" fill="#fff"/>
<rect x="192" y="272" width="8" height="5" fill="#fff"/>
<path d="M203.5 283.5 H240" stroke="#fff" stroke-width="2" stroke-dasharray="3 2"/>
<polygon points="253,272 250,274 250,277 253,279" fill="#fff"/>
<rect x="202" y="267" width="37" height="14" fill="#fff"/>
<text transform="matrix(0.75,0,0,1,204.5,277)" x="0" y="0" font-size="13" fill="#000" textLength="38.80" lengthAdjust="spacing">TAG1</text>
<rect x="157" y="296" width="85" height="24" fill="#000"/>
<rect x="160" y="298" width="3" height="5" fill="#fff"/>
<rect x="160" y="313" width="3" height="5" fill="#fff"/>
<rect x="166" y="298" width="3" height="5" fill="#fff"/>
<rect x="166" y="313" width="3" height="5" fill="#fff"/>
<rect x="171" y="298" width="3" height="5" fill="#fff"/>
<rect x="171" y="313" width="3" height="5" fill="#fff"/>
<rect x="177" y="298" width="3" height="5" fill="#fff"/>
<rect x="177" y="313" width="3" height="5" fill="#fff"/>
<rect x="224" y="298" width="3" height="5" fill="#fff"/>
<rect x="224" y="313" width="3" height="5" fill="#fff"/>
<rect x="230" y="298" width="3" height="5" fill="#fff"/>
<rect x="230" y="313" width="3" height="5" fill="#fff"/>
<rect x="236" y="298" width="3" height="5" fill="#fff"/>
<rect x="236" y="313" width="3" height="5" fill="#fff"/>
<rect x="163" y="305" width="15" height="6" fill="#fff"/>
<rect x="220" y="305" width="14" height="5" fill="#fff"/>
<polygon points="242,304 239,306 239,309 242,311" fill="#fff"/>
<rect x="181.0" y="300.0" width="37" height="15" fill="#fff" stroke="#000" stroke-width="2" rx="3"/>
<text transform="matrix(0.75,0,0,1,183.6,310.8)" x="0" y="0" font-size="13" fill="#000" textLength="41.33" lengthAdjust="spacing">TAG2</text>
<rect x="466" y="339" width="1" height="20" fill="#000"/>
<rect x="691" y="339" width="1" height="20" fill="#000"/>
<rect x="466" y="357" width="226" height="2" fill="#000"/>
<rect x="474" y="339" width="1" height="18" fill="#000"/>
<rect x="466" y="343" width="8" height="1" fill="#000"/>
<rect x="466" y="350" width="8" height="1" fill="#000"/>
<rect x="475" y="341" width="3" height="16" fill="#000"/>
<rect x="475" y="342" width="1" height="1" fill="#fff"/>
<polyline points="478,342.5 487.5,342.5 487.5,351.5 485.5,351.5" fill="none" stroke="#000" stroke-width="1" stroke-linejoin="miter"/>
<polyline points="478,350.5 480.5,350.5 480.5,348.5 485.5,348.5 485.5,357" fill="none" stroke="#000" stroke-width="1" stroke-linejoin="miter"/>
<polyline points="674.5,357 674.5,348.5 676.5,348.5 676.5,351.5 681,351.5" fill="none" stroke="#000" stroke-width="1" stroke-linejoin="miter"/>
<polyline points="681,342.5 671.5,342.5 671.5,351.5 674.5,351.5" fill="none" stroke="#000" stroke-width="1" stroke-linejoin="miter"/>
<rect x="681" y="341" width="4" height="16" fill="#000"/>
<rect x="685" y="343" width="6" height="1" fill="#000"/>
<rect x="685" y="350" width="6" height="1" fill="#000"/>
<rect x="684.5" y="343.5" width="8" height="7" fill="none" stroke="#000" stroke-width="1" rx="0"/>
<rect x="492" y="341" width="175" height="14" fill="#000"/>
<path d="M495 343h4v6h-4zM496 350h1v4h-1zM499 341h1v1h-1zM501 343h4v6h-4zM502 350h1v4h-1zM505 341h1v1h-1zM507 343h4v6h-4zM508 350h1v4h-1zM511 341h1v1h-1zM513 343h4v6h-4zM514 350h1v4h-1zM517 341h1v1h-1zM519 343h4v6h-4zM520 350h1v4h-1zM523 341h1v1h-1zM525 343h4v6h-4zM526 350h1v4h-1zM529 341h1v1h-1zM531 343h4v6h-4zM532 350h1v4h-1zM535 341h1v1h-1zM537 343h4v6h-4zM538 350h1v4h-1zM541 341h1v1h-1zM542 343h4v6h-4zM543 350h1v4h-1zM546 341h1v1h-1zM548 343h4v6h-4zM549 350h1v4h-1zM552 341h1v1h-1zM554 343h4v6h-4zM555 350h1v4h-1zM558 341h1v1h-1zM560 343h4v6h-4zM561 350h1v4h-1zM564 341h1v1h-1zM566 343h4v6h-4zM567 350h1v4h-1zM570 341h1v1h-1zM572 343h4v6h-4zM573 350h1v4h-1zM576 341h1v1h-1zM578 343h4v6h-4zM579 350h1v4h-1zM582 341h1v1h-1zM584 343h4v6h-4zM585 350h1v4h-1zM588 341h1v1h-1zM590 343h4v6h-4zM591 350h1v4h-1zM594 341h1v1h-1zM596 343h4v6h-4zM597 350h1v4h-1zM600 341h1v1h-1zM602 343h4v6h-4zM603 350h1v4h-1zM606 341h1v1h-1zM608 343h4v6h-4zM609 350h1v4h-1zM612 341h1v1h-1zM614 343h4v6h-4zM615 350h1v4h-1zM618 341h1v1h-1zM620 343h4v6h-4zM621 350h1v4h-1zM624 341h1v1h-1zM625 343h4v6h-4zM626 350h1v4h-1zM629 341h1v1h-1zM631 343h4v6h-4zM632 350h1v4h-1zM635 341h1v1h-1zM637 343h4v6h-4zM638 350h1v4h-1zM641 341h1v1h-1zM643 343h4v6h-4zM644 350h1v4h-1zM647 341h1v1h-1zM649 343h4v6h-4zM650 350h1v4h-1zM653 341h1v1h-1zM655 343h4v6h-4zM656 350h1v4h-1zM659 341h1v1h-1zM661 343h4v6h-4zM662 350h1v4h-1zM665 341h1v1h-1z" fill="#fff"/>
<rect x="466" y="359" width="1" height="19" fill="#000"/>
<rect x="691" y="359" width="1" height="19" fill="#000"/>
<rect x="466" y="376" width="226" height="2" fill="#000"/>
<rect x="474" y="359" width="1" height="17" fill="#000"/>
<rect x="466" y="363" width="8" height="1" fill="#000"/>
<rect x="466" y="370" width="8" height="1" fill="#000"/>
<rect x="475" y="361" width="3" height="15" fill="#000"/>
<rect x="475" y="362" width="1" height="1" fill="#fff"/>
<polyline points="478,362.5 487.5,362.5 487.5,371.5 485.5,371.5" fill="none" stroke="#000" stroke-width="1" stroke-linejoin="miter"/>
<polyline points="478,370.5 480.5,370.5 480.5,368.5 485.5,368.5 485.5,376" fill="none" stroke="#000" stroke-width="1" stroke-linejoin="miter"/>
<polyline points="674.5,376 674.5,368.5 676.5,368.5 676.5,371.5 681,371.5" fill="none" stroke="#000" stroke-width="1" stroke-linejoin="miter"/>
<polyline points="681,362.5 671.5,362.5 671.5,371.5 674.5,371.5" fill="none" stroke="#000" stroke-width="1" stroke-linejoin="miter"/>
<rect x="681" y="361" width="4" height="15" fill="#000"/>
<rect x="685" y="363" width="6" height="1" fill="#000"/>
<rect x="685" y="370" width="6" height="1" fill="#000"/>
<rect x="684.5" y="363.5" width="8" height="7" fill="none" stroke="#000" stroke-width="1" rx="0"/>
<rect x="492" y="361" width="175" height="13" fill="#000"/>
<path d="M495 363h4v6h-4zM496 370h1v3h-1zM499 361h1v1h-1zM501 363h4v6h-4zM502 370h1v3h-1zM505 361h1v1h-1zM507 363h4v6h-4zM508 370h1v3h-1zM511 361h1v1h-1zM513 363h4v6h-4zM514 370h1v3h-1zM517 361h1v1h-1zM519 363h4v6h-4zM520 370h1v3h-1zM523 361h1v1h-1zM525 363h4v6h-4zM526 370h1v3h-1zM529 361h1v1h-1zM531 363h4v6h-4zM532 370h1v3h-1zM535 361h1v1h-1zM537 363h4v6h-4zM538 370h1v3h-1zM541 361h1v1h-1zM542 363h4v6h-4zM543 370h1v3h-1zM546 361h1v1h-1zM548 363h4v6h-4zM549 370h1v3h-1zM552 361h1v1h-1zM554 363h4v6h-4zM555 370h1v3h-1zM558 361h1v1h-1zM560 363h4v6h-4zM561 370h1v3h-1zM564 361h1v1h-1zM566 363h4v6h-4zM567 370h1v3h-1zM570 361h1v1h-1zM572 363h4v6h-4zM573 370h1v3h-1zM576 361h1v1h-1zM578 363h4v6h-4zM579 370h1v3h-1zM582 361h1v1h-1zM584 363h4v6h-4zM585 370h1v3h-1zM588 361h1v1h-1zM590 363h4v6h-4zM591 370h1v3h-1zM594 361h1v1h-1zM596 363h4v6h-4zM597 370h1v3h-1zM600 361h1v1h-1zM602 363h4v6h-4zM603 370h1v3h-1zM606 361h1v1h-1zM608 363h4v6h-4zM609 370h1v3h-1zM612 361h1v1h-1zM614 363h4v6h-4zM615 370h1v3h-1zM618 361h1v1h-1zM620 363h4v6h-4zM621 370h1v3h-1zM624 361h1v1h-1zM625 363h4v6h-4zM626 370h1v3h-1zM629 361h1v1h-1zM631 363h4v6h-4zM632 370h1v3h-1zM635 361h1v1h-1zM637 363h4v6h-4zM638 370h1v3h-1zM641 361h1v1h-1zM643 363h4v6h-4zM644 370h1v3h-1zM647 361h1v1h-1zM649 363h4v6h-4zM650 370h1v3h-1zM653 361h1v1h-1zM655 363h4v6h-4zM656 370h1v3h-1zM659 361h1v1h-1zM661 363h4v6h-4zM662 370h1v3h-1zM665 361h1v1h-1z" fill="#fff"/>
<rect x="466" y="378" width="1" height="19" fill="#000"/>
<rect x="691" y="378" width="1" height="19" fill="#000"/>
<rect x="466" y="395" width="226" height="2" fill="#000"/>
<rect x="474" y="378" width="1" height="17" fill="#000"/>
<rect x="466" y="382" width="8" height="1" fill="#000"/>
<rect x="466" y="389" width="8" height="1" fill="#000"/>
<rect x="475" y="380" width="3" height="15" fill="#000"/>
<rect x="475" y="381" width="1" height="1" fill="#fff"/>
<polyline points="478,381.5 487.5,381.5 487.5,390.5 485.5,390.5" fill="none" stroke="#000" stroke-width="1" stroke-linejoin="miter"/>
<polyline points="478,389.5 480.5,389.5 480.5,387.5 485.5,387.5 485.5,395" fill="none" stroke="#000" stroke-width="1" stroke-linejoin="miter"/>
<polyline points="674.5,395 674.5,387.5 676.5,387.5 676.5,390.5 681,390.5" fill="none" stroke="#000" stroke-width="1" stroke-linejoin="miter"/>
<polyline points="681,381.5 671.5,381.5 671.5,390.5 674.5,390.5" fill="none" stroke="#000" stroke-width="1" stroke-linejoin="miter"/>
<rect x="681" y="380" width="4" height="15" fill="#000"/>
<rect x="685" y="382" width="6" height="1" fill="#000"/>
<rect x="685" y="389" width="6" height="1" fill="#000"/>
<rect x="684.5" y="382.5" width="8" height="7" fill="none" stroke="#000" stroke-width="1" rx="0"/>
<rect x="492" y="380" width="175" height="13" fill="#000"/>
<path d="M495 382h4v6h-4zM496 389h1v3h-1zM499 380h1v1h-1zM501 382h4v6h-4zM502 389h1v3h-1zM505 380h1v1h-1zM507 382h4v6h-4zM508 389h1v3h-1zM511 380h1v1h-1zM513 382h4v6h-4zM514 389h1v3h-1zM517 380h1v1h-1zM519 382h4v6h-4zM520 389h1v3h-1zM523 380h1v1h-1zM525 382h4v6h-4zM526 389h1v3h-1zM529 380h1v1h-1zM531 382h4v6h-4zM532 389h1v3h-1zM535 380h1v1h-1zM537 382h4v6h-4zM538 389h1v3h-1zM541 380h1v1h-1zM542 382h4v6h-4zM543 389h1v3h-1zM546 380h1v1h-1zM548 382h4v6h-4zM549 389h1v3h-1zM552 380h1v1h-1zM554 382h4v6h-4zM555 389h1v3h-1zM558 380h1v1h-1zM560 382h4v6h-4zM561 389h1v3h-1zM564 380h1v1h-1zM566 382h4v6h-4zM567 389h1v3h-1zM570 380h1v1h-1zM572 382h4v6h-4zM573 389h1v3h-1zM576 380h1v1h-1zM578 382h4v6h-4zM579 389h1v3h-1zM582 380h1v1h-1zM584 382h4v6h-4zM585 389h1v3h-1zM588 380h1v1h-1zM590 382h4v6h-4zM591 389h1v3h-1zM594 380h1v1h-1zM596 382h4v6h-4zM597 389h1v3h-1zM600 380h1v1h-1zM602 382h4v6h-4zM603 389h1v3h-1zM606 380h1v1h-1zM608 382h4v6h-4zM609 389h1v3h-1zM612 380h1v1h-1zM614 382h4v6h-4zM615 389h1v3h-1zM618 380h1v1h-1zM620 382h4v6h-4zM621 389h1v3h-1zM624 380h1v1h-1zM625 382h4v6h-4zM626 389h1v3h-1zM629 380h1v1h-1zM631 382h4v6h-4zM632 389h1v3h-1zM635 380h1v1h-1zM637 382h4v6h-4zM638 389h1v3h-1zM641 380h1v1h-1zM643 382h4v6h-4zM644 389h1v3h-1zM647 380h1v1h-1zM649 382h4v6h-4zM650 389h1v3h-1zM653 380h1v1h-1zM655 382h4v6h-4zM656 389h1v3h-1zM659 380h1v1h-1zM661 382h4v6h-4zM662 389h1v3h-1zM665 380h1v1h-1z" fill="#fff"/>
<rect x="466" y="397" width="1" height="19" fill="#000"/>
<rect x="691" y="397" width="1" height="19" fill="#000"/>
<rect x="466" y="415" width="226" height="1" fill="#000"/>
<rect x="474" y="397" width="1" height="18" fill="#000"/>
<rect x="466" y="401" width="8" height="1" fill="#000"/>
<rect x="466" y="408" width="8" height="1" fill="#000"/>
<rect x="475" y="399" width="3" height="16" fill="#000"/>
<rect x="475" y="400" width="1" height="1" fill="#fff"/>
<polyline points="478,400.5 487.5,400.5 487.5,409.5 485.5,409.5" fill="none" stroke="#000" stroke-width="1" stroke-linejoin="miter"/>
<polyline points="478,408.5 480.5,408.5 480.5,406.5 485.5,406.5 485.5,415" fill="none" stroke="#000" stroke-width="1" stroke-linejoin="miter"/>
<polyline points="674.5,415 674.5,406.5 676.5,406.5 676.5,409.5 681,409.5" fill="none" stroke="#000" stroke-width="1" stroke-linejoin="miter"/>
<polyline points="681,400.5 671.5,400.5 671.5,409.5 674.5,409.5" fill="none" stroke="#000" stroke-width="1" stroke-linejoin="miter"/>
<rect x="681" y="399" width="4" height="16" fill="#000"/>
<rect x="685" y="401" width="6" height="1" fill="#000"/>
<rect x="685" y="408" width="6" height="1" fill="#000"/>
<rect x="684.5" y="401.5" width="8" height="7" fill="none" stroke="#000" stroke-width="1" rx="0"/>
<rect x="492" y="399" width="175" height="14" fill="#000"/>
<path d="M495 401h4v6h-4zM496 408h1v4h-1zM499 399h1v1h-1zM501 401h4v6h-4zM502 408h1v4h-1zM505 399h1v1h-1zM507 401h4v6h-4zM508 408h1v4h-1zM511 399h1v1h-1zM513 401h4v6h-4zM514 408h1v4h-1zM517 399h1v1h-1zM519 401h4v6h-4zM520 408h1v4h-1zM523 399h1v1h-1zM525 401h4v6h-4zM526 408h1v4h-1zM529 399h1v1h-1zM531 401h4v6h-4zM532 408h1v4h-1zM535 399h1v1h-1zM537 401h4v6h-4zM538 408h1v4h-1zM541 399h1v1h-1zM542 401h4v6h-4zM543 408h1v4h-1zM546 399h1v1h-1zM548 401h4v6h-4zM549 408h1v4h-1zM552 399h1v1h-1zM554 401h4v6h-4zM555 408h1v4h-1zM558 399h1v1h-1zM560 401h4v6h-4zM561 408h1v4h-1zM564 399h1v1h-1zM566 401h4v6h-4zM567 408h1v4h-1zM570 399h1v1h-1zM572 401h4v6h-4zM573 408h1v4h-1zM576 399h1v1h-1zM578 401h4v6h-4zM579 408h1v4h-1zM582 399h1v1h-1zM584 401h4v6h-4zM585 408h1v4h-1zM588 399h1v1h-1zM590 401h4v6h-4zM591 408h1v4h-1zM594 399h1v1h-1zM596 401h4v6h-4zM597 408h1v4h-1zM600 399h1v1h-1zM602 401h4v6h-4zM603 408h1v4h-1zM606 399h1v1h-1zM608 401h4v6h-4zM609 408h1v4h-1zM612 399h1v1h-1zM614 401h4v6h-4zM615 408h1v4h-1zM618 399h1v1h-1zM620 401h4v6h-4zM621 408h1v4h-1zM624 399h1v1h-1zM625 401h4v6h-4zM626 408h1v4h-1zM629 399h1v1h-1zM631 401h4v6h-4zM632 408h1v4h-1zM635 399h1v1h-1zM637 401h4v6h-4zM638 408h1v4h-1zM641 399h1v1h-1zM643 401h4v6h-4zM644 408h1v4h-1zM647 399h1v1h-1zM649 401h4v6h-4zM650 408h1v4h-1zM653 399h1v1h-1zM655 401h4v6h-4zM656 408h1v4h-1zM659 399h1v1h-1zM661 401h4v6h-4zM662 408h1v4h-1zM665 399h1v1h-1z" fill="#fff"/>
<rect x="466" y="417" width="1" height="21" fill="#000"/>
<rect x="691" y="417" width="1" height="21" fill="#000"/>
<rect x="466" y="436" width="226" height="2" fill="#000"/>
<rect x="474" y="417" width="1" height="19" fill="#000"/>
<rect x="466" y="421" width="8" height="1" fill="#000"/>
<rect x="466" y="428" width="8" height="1" fill="#000"/>
<rect x="475" y="419" width="3" height="17" fill="#000"/>
<rect x="475" y="420" width="1" height="1" fill="#fff"/>
<polyline points="478,420.5 487.5,420.5 487.5,429.5 485.5,429.5" fill="none" stroke="#000" stroke-width="1" stroke-linejoin="miter"/>
<polyline points="478,428.5 480.5,428.5 480.5,426.5 485.5,426.5 485.5,436" fill="none" stroke="#000" stroke-width="1" stroke-linejoin="miter"/>
<polyline points="674.5,436 674.5,426.5 676.5,426.5 676.5,429.5 681,429.5" fill="none" stroke="#000" stroke-width="1" stroke-linejoin="miter"/>
<polyline points="681,420.5 671.5,420.5 671.5,429.5 674.5,429.5" fill="none" stroke="#000" stroke-width="1" stroke-linejoin="miter"/>
<rect x="681" y="419" width="4" height="17" fill="#000"/>
<rect x="685" y="421" width="6" height="1" fill="#000"/>
<rect x="685" y="428" width="6" height="1" fill="#000"/>
<rect x="684.5" y="421.5" width="8" height="7" fill="none" stroke="#000" stroke-width="1" rx="0"/>
<rect x="492" y="419" width="175" height="15" fill="#000"/>
<path d="M495 421h4v6h-4zM496 428h1v5h-1zM499 419h1v1h-1zM501 421h4v6h-4zM502 428h1v5h-1zM505 419h1v1h-1zM507 421h4v6h-4zM508 428h1v5h-1zM511 419h1v1h-1zM513 421h4v6h-4zM514 428h1v5h-1zM517 419h1v1h-1zM519 421h4v6h-4zM520 428h1v5h-1zM523 419h1v1h-1zM525 421h4v6h-4zM526 428h1v5h-1zM529 419h1v1h-1zM531 421h4v6h-4zM532 428h1v5h-1zM535 419h1v1h-1zM537 421h4v6h-4zM538 428h1v5h-1zM541 419h1v1h-1zM542 421h4v6h-4zM543 428h1v5h-1zM546 419h1v1h-1zM548 421h4v6h-4zM549 428h1v5h-1zM552 419h1v1h-1zM554 421h4v6h-4zM555 428h1v5h-1zM558 419h1v1h-1zM560 421h4v6h-4zM561 428h1v5h-1zM564 419h1v1h-1zM566 421h4v6h-4zM567 428h1v5h-1zM570 419h1v1h-1zM572 421h4v6h-4zM573 428h1v5h-1zM576 419h1v1h-1zM578 421h4v6h-4zM579 428h1v5h-1zM582 419h1v1h-1zM584 421h4v6h-4zM585 428h1v5h-1zM588 419h1v1h-1zM590 421h4v6h-4zM591 428h1v5h-1zM594 419h1v1h-1zM596 421h4v6h-4zM597 428h1v5h-1zM600 419h1v1h-1zM602 421h4v6h-4zM603 428h1v5h-1zM606 419h1v1h-1zM608 421h4v6h-4zM609 428h1v5h-1zM612 419h1v1h-1zM614 421h4v6h-4zM615 428h1v5h-1zM618 419h1v1h-1zM620 421h4v6h-4zM621 428h1v5h-1zM624 419h1v1h-1zM625 421h4v6h-4zM626 428h1v5h-1zM629 419h1v1h-1zM631 421h4v6h-4zM632 428h1v5h-1zM635 419h1v1h-1zM637 421h4v6h-4zM638 428h1v5h-1zM641 419h1v1h-1zM643 421h4v6h-4zM644 428h1v5h-1zM647 419h1v1h-1zM649 421h4v6h-4zM650 428h1v5h-1zM653 419h1v1h-1zM655 421h4v6h-4zM656 428h1v5h-1zM659 419h1v1h-1zM661 421h4v6h-4zM662 428h1v5h-1zM665 419h1v1h-1z" fill="#fff"/>
<rect x="466" y="438" width="1" height="19" fill="#000"/>
<rect x="691" y="438" width="1" height="19" fill="#000"/>
<rect x="466" y="455" width="226" height="2" fill="#000"/>
<rect x="474" y="438" width="1" height="17" fill="#000"/>
<rect x="466" y="442" width="8" height="1" fill="#000"/>
<rect x="466" y="449" width="8" height="1" fill="#000"/>
<rect x="475" y="440" width="3" height="15" fill="#000"/>
<rect x="475" y="441" width="1" height="1" fill="#fff"/>
<polyline points="478,441.5 487.5,441.5 487.5,450.5 485.5,450.5" fill="none" stroke="#000" stroke-width="1" stroke-linejoin="miter"/>
<polyline points="478,449.5 480.5,449.5 480.5,447.5 485.5,447.5 485.5,455" fill="none" stroke="#000" stroke-width="1" stroke-linejoin="miter"/>
<polyline points="674.5,455 674.5,447.5 676.5,447.5 676.5,450.5 681,450.5" fill="none" stroke="#000" stroke-width="1" stroke-linejoin="miter"/>
<polyline points="681,441.5 671.5,441.5 671.5,450.5 674.5,450.5" fill="none" stroke="#000" stroke-width="1" stroke-linejoin="miter"/>
<rect x="681" y="440" width="4" height="15" fill="#000"/>
<rect x="685" y="442" width="6" height="1" fill="#000"/>
<rect x="685" y="449" width="6" height="1" fill="#000"/>
<rect x="684.5" y="442.5" width="8" height="7" fill="none" stroke="#000" stroke-width="1" rx="0"/>
<rect x="492" y="440" width="175" height="13" fill="#000"/>
<path d="M495 442h4v6h-4zM496 449h1v3h-1zM499 440h1v1h-1zM501 442h4v6h-4zM502 449h1v3h-1zM505 440h1v1h-1zM507 442h4v6h-4zM508 449h1v3h-1zM511 440h1v1h-1zM513 442h4v6h-4zM514 449h1v3h-1zM517 440h1v1h-1zM519 442h4v6h-4zM520 449h1v3h-1zM523 440h1v1h-1zM525 442h4v6h-4zM526 449h1v3h-1zM529 440h1v1h-1zM531 442h4v6h-4zM532 449h1v3h-1zM535 440h1v1h-1zM537 442h4v6h-4zM538 449h1v3h-1zM541 440h1v1h-1zM542 442h4v6h-4zM543 449h1v3h-1zM546 440h1v1h-1zM548 442h4v6h-4zM549 449h1v3h-1zM552 440h1v1h-1zM554 442h4v6h-4zM555 449h1v3h-1zM558 440h1v1h-1zM560 442h4v6h-4zM561 449h1v3h-1zM564 440h1v1h-1zM566 442h4v6h-4zM567 449h1v3h-1zM570 440h1v1h-1zM572 442h4v6h-4zM573 449h1v3h-1zM576 440h1v1h-1zM578 442h4v6h-4zM579 449h1v3h-1zM582 440h1v1h-1zM584 442h4v6h-4zM585 449h1v3h-1zM588 440h1v1h-1zM590 442h4v6h-4zM591 449h1v3h-1zM594 440h1v1h-1zM596 442h4v6h-4zM597 449h1v3h-1zM600 440h1v1h-1zM602 442h4v6h-4zM603 449h1v3h-1zM606 440h1v1h-1zM608 442h4v6h-4zM609 449h1v3h-1zM612 440h1v1h-1zM614 442h4v6h-4zM615 449h1v3h-1zM618 440h1v1h-1zM620 442h4v6h-4zM621 449h1v3h-1zM624 440h1v1h-1zM625 442h4v6h-4zM626 449h1v3h-1zM629 440h1v1h-1zM631 442h4v6h-4zM632 449h1v3h-1zM635 440h1v1h-1zM637 442h4v6h-4zM638 449h1v3h-1zM641 440h1v1h-1zM643 442h4v6h-4zM644 449h1v3h-1zM647 440h1v1h-1zM649 442h4v6h-4zM650 449h1v3h-1zM653 440h1v1h-1zM655 442h4v6h-4zM656 449h1v3h-1zM659 440h1v1h-1zM661 442h4v6h-4zM662 449h1v3h-1zM665 440h1v1h-1z" fill="#fff"/>
<rect x="466" y="457" width="1" height="19" fill="#000"/>
<rect x="691" y="457" width="1" height="19" fill="#000"/>
<rect x="466" y="474" width="226" height="2" fill="#000"/>
<rect x="474" y="457" width="1" height="17" fill="#000"/>
<rect x="466" y="461" width="8" height="1" fill="#000"/>
<rect x="466" y="468" width="8" height="1" fill="#000"/>
<rect x="475" y="459" width="3" height="15" fill="#000"/>
<rect x="475" y="460" width="1" height="1" fill="#fff"/>
<polyline points="478,460.5 487.5,460.5 487.5,469.5 485.5,469.5" fill="none" stroke="#000" stroke-width="1" stroke-linejoin="miter"/>
<polyline points="478,468.5 480.5,468.5 480.5,466.5 485.5,466.5 485.5,474" fill="none" stroke="#000" stroke-width="1" stroke-linejoin="miter"/>
<polyline points="674.5,474 674.5,466.5 676.5,466.5 676.5,469.5 681,469.5" fill="none" stroke="#000" stroke-width="1" stroke-linejoin="miter"/>
<polyline points="681,460.5 671.5,460.5 671.5,469.5 674.5,469.5" fill="none" stroke="#000" stroke-width="1" stroke-linejoin="miter"/>
<rect x="681" y="459" width="4" height="15" fill="#000"/>
<rect x="685" y="461" width="6" height="1" fill="#000"/>
<rect x="685" y="468" width="6" height="1" fill="#000"/>
<rect x="684.5" y="461.5" width="8" height="7" fill="none" stroke="#000" stroke-width="1" rx="0"/>
<rect x="492" y="459" width="175" height="13" fill="#000"/>
<path d="M495 461h4v6h-4zM496 468h1v3h-1zM499 459h1v1h-1zM501 461h4v6h-4zM502 468h1v3h-1zM505 459h1v1h-1zM507 461h4v6h-4zM508 468h1v3h-1zM511 459h1v1h-1zM513 461h4v6h-4zM514 468h1v3h-1zM517 459h1v1h-1zM519 461h4v6h-4zM520 468h1v3h-1zM523 459h1v1h-1zM525 461h4v6h-4zM526 468h1v3h-1zM529 459h1v1h-1zM531 461h4v6h-4zM532 468h1v3h-1zM535 459h1v1h-1zM537 461h4v6h-4zM538 468h1v3h-1zM541 459h1v1h-1zM542 461h4v6h-4zM543 468h1v3h-1zM546 459h1v1h-1zM548 461h4v6h-4zM549 468h1v3h-1zM552 459h1v1h-1zM554 461h4v6h-4zM555 468h1v3h-1zM558 459h1v1h-1zM560 461h4v6h-4zM561 468h1v3h-1zM564 459h1v1h-1zM566 461h4v6h-4zM567 468h1v3h-1zM570 459h1v1h-1zM572 461h4v6h-4zM573 468h1v3h-1zM576 459h1v1h-1zM578 461h4v6h-4zM579 468h1v3h-1zM582 459h1v1h-1zM584 461h4v6h-4zM585 468h1v3h-1zM588 459h1v1h-1zM590 461h4v6h-4zM591 468h1v3h-1zM594 459h1v1h-1zM596 461h4v6h-4zM597 468h1v3h-1zM600 459h1v1h-1zM602 461h4v6h-4zM603 468h1v3h-1zM606 459h1v1h-1zM608 461h4v6h-4zM609 468h1v3h-1zM612 459h1v1h-1zM614 461h4v6h-4zM615 468h1v3h-1zM618 459h1v1h-1zM620 461h4v6h-4zM621 468h1v3h-1zM624 459h1v1h-1zM625 461h4v6h-4zM626 468h1v3h-1zM629 459h1v1h-1zM631 461h4v6h-4zM632 468h1v3h-1zM635 459h1v1h-1zM637 461h4v6h-4zM638 468h1v3h-1zM641 459h1v1h-1zM643 461h4v6h-4zM644 468h1v3h-1zM647 459h1v1h-1zM649 461h4v6h-4zM650 468h1v3h-1zM653 459h1v1h-1zM655 461h4v6h-4zM656 468h1v3h-1zM659 459h1v1h-1zM661 461h4v6h-4zM662 468h1v3h-1zM665 459h1v1h-1z" fill="#fff"/>
<rect x="466" y="476" width="1" height="18" fill="#000"/>
<rect x="691" y="476" width="1" height="18" fill="#000"/>
<rect x="466" y="493" width="226" height="1" fill="#000"/>
<rect x="474" y="476" width="1" height="17" fill="#000"/>
<rect x="466" y="480" width="8" height="1" fill="#000"/>
<rect x="466" y="487" width="8" height="1" fill="#000"/>
<rect x="475" y="478" width="3" height="15" fill="#000"/>
<rect x="475" y="479" width="1" height="1" fill="#fff"/>
<polyline points="478,479.5 487.5,479.5 487.5,488.5 485.5,488.5" fill="none" stroke="#000" stroke-width="1" stroke-linejoin="miter"/>
<polyline points="478,487.5 480.5,487.5 480.5,485.5 485.5,485.5 485.5,493" fill="none" stroke="#000" stroke-width="1" stroke-linejoin="miter"/>
<polyline points="674.5,493 674.5,485.5 676.5,485.5 676.5,488.5 681,488.5" fill="none" stroke="#000" stroke-width="1" stroke-linejoin="miter"/>
<polyline points="681,479.5 671.5,479.5 671.5,488.5 674.5,488.5" fill="none" stroke="#000" stroke-width="1" stroke-linejoin="miter"/>
<rect x="681" y="478" width="4" height="15" fill="#000"/>
<rect x="685" y="480" width="6" height="1" fill="#000"/>
<rect x="685" y="487" width="6" height="1" fill="#000"/>
<rect x="684.5" y="480.5" width="8" height="7" fill="none" stroke="#000" stroke-width="1" rx="0"/>
<rect x="492" y="478" width="175" height="13" fill="#000"/>
<path d="M495 480h4v6h-4zM496 487h1v3h-1zM499 478h1v1h-1zM501 480h4v6h-4zM502 487h1v3h-1zM505 478h1v1h-1zM507 480h4v6h-4zM508 487h1v3h-1zM511 478h1v1h-1zM513 480h4v6h-4zM514 487h1v3h-1zM517 478h1v1h-1zM519 480h4v6h-4zM520 487h1v3h-1zM523 478h1v1h-1zM525 480h4v6h-4zM526 487h1v3h-1zM529 478h1v1h-1zM531 480h4v6h-4zM532 487h1v3h-1zM535 478h1v1h-1zM537 480h4v6h-4zM538 487h1v3h-1zM541 478h1v1h-1zM542 480h4v6h-4zM543 487h1v3h-1zM546 478h1v1h-1zM548 480h4v6h-4zM549 487h1v3h-1zM552 478h1v1h-1zM554 480h4v6h-4zM555 487h1v3h-1zM558 478h1v1h-1zM560 480h4v6h-4zM561 487h1v3h-1zM564 478h1v1h-1zM566 480h4v6h-4zM567 487h1v3h-1zM570 478h1v1h-1zM572 480h4v6h-4zM573 487h1v3h-1zM576 478h1v1h-1zM578 480h4v6h-4zM579 487h1v3h-1zM582 478h1v1h-1zM584 480h4v6h-4zM585 487h1v3h-1zM588 478h1v1h-1zM590 480h4v6h-4zM591 487h1v3h-1zM594 478h1v1h-1zM596 480h4v6h-4zM597 487h1v3h-1zM600 478h1v1h-1zM602 480h4v6h-4zM603 487h1v3h-1zM606 478h1v1h-1zM608 480h4v6h-4zM609 487h1v3h-1zM612 478h1v1h-1zM614 480h4v6h-4zM615 487h1v3h-1zM618 478h1v1h-1zM620 480h4v6h-4zM621 487h1v3h-1zM624 478h1v1h-1zM625 480h4v6h-4zM626 487h1v3h-1zM629 478h1v1h-1zM631 480h4v6h-4zM632 487h1v3h-1zM635 478h1v1h-1zM637 480h4v6h-4zM638 487h1v3h-1zM641 478h1v1h-1zM643 480h4v6h-4zM644 487h1v3h-1zM647 478h1v1h-1zM649 480h4v6h-4zM650 487h1v3h-1zM653 478h1v1h-1zM655 480h4v6h-4zM656 487h1v3h-1zM659 478h1v1h-1zM661 480h4v6h-4zM662 487h1v3h-1zM665 478h1v1h-1z" fill="#fff"/>
<rect x="466" y="339" width="226" height="1" fill="#000"/>
<rect x="466" y="417" width="226" height="1" fill="#000"/>
<rect x="550" y="370" width="59" height="19" fill="#000"/>
<rect x="552.0" y="372.0" width="55" height="15" fill="#fff" stroke="#000" stroke-width="2" rx="3"/>
<text transform="matrix(0.75,0,0,1,556,383)" x="0" y="0" font-size="13" fill="#000" textLength="62.67" lengthAdjust="spacing">BANK 0</text>
<rect x="548" y="443" width="61" height="19" fill="#000"/>
<rect x="550.0" y="445.0" width="57" height="15" fill="#fff" stroke="#000" stroke-width="2" rx="3"/>
<text transform="matrix(0.75,0,0,1,555.3,455.7)" x="0" y="0" font-size="13" fill="#000" textLength="63.60" lengthAdjust="spacing">BANK 1</text>
<rect x="466.5" y="501.5" width="278" height="15" fill="#fff" stroke="#000" stroke-width="1" rx="0"/>
<rect x="474" y="500" width="1" height="16" fill="#000"/>
<rect x="466" y="504" width="8" height="1" fill="#000"/>
<rect x="466" y="511" width="8" height="1" fill="#000"/>
<rect x="474" y="502" width="3" height="14" fill="#000"/>
<rect x="474" y="503" width="1" height="1" fill="#fff"/>
<polyline points="477,503.5 486.5,503.5 486.5,512.5 484.5,512.5" fill="none" stroke="#000" stroke-width="1" stroke-linejoin="miter"/>
<polyline points="477,511.5 479.5,511.5 479.5,509.5 484.5,509.5 484.5,516" fill="none" stroke="#000" stroke-width="1" stroke-linejoin="miter"/>
<polyline points="725.5,516 725.5,509.5 727.5,509.5 727.5,512.5 732,512.5" fill="none" stroke="#000" stroke-width="1" stroke-linejoin="miter"/>
<polyline points="732,503.5 722.5,503.5 722.5,512.5 725.5,512.5" fill="none" stroke="#000" stroke-width="1" stroke-linejoin="miter"/>
<rect x="732" y="502" width="4" height="14" fill="#000"/>
<rect x="736" y="504" width="8" height="1" fill="#000"/>
<rect x="736" y="511" width="8" height="1" fill="#000"/>
<rect x="735.5" y="504.5" width="10" height="7" fill="none" stroke="#000" stroke-width="1" rx="0"/>
<rect x="489" y="503" width="231" height="12" fill="#000"/>
<path d="M492 505h1v4h-1zM495 505h1v4h-1zM498 505h1v4h-1zM500 505h1v4h-1zM503 505h1v4h-1zM506 505h1v4h-1zM508 505h1v4h-1zM511 505h1v4h-1zM514 505h1v4h-1zM517 505h1v4h-1zM520 505h1v4h-1zM522 505h1v4h-1zM525 505h1v4h-1zM528 505h1v4h-1zM530 505h1v4h-1zM533 505h1v4h-1zM536 505h1v4h-1zM539 505h1v4h-1zM542 505h1v4h-1zM544 505h1v4h-1zM547 505h1v4h-1zM550 505h1v4h-1zM552 505h1v4h-1zM555 505h1v4h-1zM558 505h1v4h-1zM561 505h1v4h-1zM564 505h1v4h-1zM566 505h1v4h-1zM569 505h1v4h-1zM572 505h1v4h-1zM574 505h1v4h-1zM577 505h1v4h-1zM580 505h1v4h-1zM583 505h1v4h-1zM586 505h1v4h-1zM588 505h1v4h-1zM591 505h1v4h-1zM594 505h1v4h-1zM596 505h1v4h-1zM599 505h1v4h-1zM602 505h1v4h-1zM605 505h1v4h-1zM608 505h1v4h-1zM610 505h1v4h-1zM613 505h1v4h-1zM616 505h1v4h-1zM618 505h1v4h-1zM621 505h1v4h-1zM624 505h1v4h-1zM627 505h1v4h-1zM630 505h1v4h-1zM632 505h1v4h-1zM635 505h1v4h-1zM638 505h1v4h-1zM640 505h1v4h-1zM643 505h1v4h-1zM646 505h1v4h-1zM649 505h1v4h-1zM652 505h1v4h-1zM654 505h1v4h-1zM657 505h1v4h-1zM660 505h1v4h-1zM662 505h1v4h-1zM665 505h1v4h-1zM668 505h1v4h-1zM671 505h1v4h-1zM674 505h1v4h-1zM676 505h1v4h-1zM679 505h1v4h-1zM682 505h1v4h-1zM684 505h1v4h-1zM687 505h1v4h-1zM690 505h1v4h-1zM693 505h1v4h-1zM696 505h1v4h-1zM698 505h1v4h-1zM701 505h1v4h-1zM704 505h1v4h-1zM706 505h1v4h-1zM709 505h1v4h-1zM712 505h1v4h-1zM715 505h1v4h-1zM718 505h1v4h-1z" fill="#fff"/>
<rect x="466.5" y="518.5" width="278" height="15" fill="#fff" stroke="#000" stroke-width="1" rx="0"/>
<rect x="474" y="517" width="1" height="16" fill="#000"/>
<rect x="466" y="521" width="8" height="1" fill="#000"/>
<rect x="466" y="528" width="8" height="1" fill="#000"/>
<rect x="474" y="519" width="3" height="14" fill="#000"/>
<rect x="474" y="520" width="1" height="1" fill="#fff"/>
<polyline points="477,520.5 486.5,520.5 486.5,529.5 484.5,529.5" fill="none" stroke="#000" stroke-width="1" stroke-linejoin="miter"/>
<polyline points="477,528.5 479.5,528.5 479.5,526.5 484.5,526.5 484.5,533" fill="none" stroke="#000" stroke-width="1" stroke-linejoin="miter"/>
<polyline points="725.5,533 725.5,526.5 727.5,526.5 727.5,529.5 732,529.5" fill="none" stroke="#000" stroke-width="1" stroke-linejoin="miter"/>
<polyline points="732,520.5 722.5,520.5 722.5,529.5 725.5,529.5" fill="none" stroke="#000" stroke-width="1" stroke-linejoin="miter"/>
<rect x="732" y="519" width="4" height="14" fill="#000"/>
<rect x="736" y="521" width="8" height="1" fill="#000"/>
<rect x="736" y="528" width="8" height="1" fill="#000"/>
<rect x="735.5" y="521.5" width="10" height="7" fill="none" stroke="#000" stroke-width="1" rx="0"/>
<rect x="489" y="520" width="231" height="12" fill="#000"/>
<path d="M492 522h1v4h-1zM495 522h1v4h-1zM498 522h1v4h-1zM500 522h1v4h-1zM503 522h1v4h-1zM506 522h1v4h-1zM508 522h1v4h-1zM511 522h1v4h-1zM514 522h1v4h-1zM517 522h1v4h-1zM520 522h1v4h-1zM522 522h1v4h-1zM525 522h1v4h-1zM528 522h1v4h-1zM530 522h1v4h-1zM533 522h1v4h-1zM536 522h1v4h-1zM539 522h1v4h-1zM542 522h1v4h-1zM544 522h1v4h-1zM547 522h1v4h-1zM550 522h1v4h-1zM552 522h1v4h-1zM555 522h1v4h-1zM558 522h1v4h-1zM561 522h1v4h-1zM564 522h1v4h-1zM566 522h1v4h-1zM569 522h1v4h-1zM572 522h1v4h-1zM574 522h1v4h-1zM577 522h1v4h-1zM580 522h1v4h-1zM583 522h1v4h-1zM586 522h1v4h-1zM588 522h1v4h-1zM591 522h1v4h-1zM594 522h1v4h-1zM596 522h1v4h-1zM599 522h1v4h-1zM602 522h1v4h-1zM605 522h1v4h-1zM608 522h1v4h-1zM610 522h1v4h-1zM613 522h1v4h-1zM616 522h1v4h-1zM618 522h1v4h-1zM621 522h1v4h-1zM624 522h1v4h-1zM627 522h1v4h-1zM630 522h1v4h-1zM632 522h1v4h-1zM635 522h1v4h-1zM638 522h1v4h-1zM640 522h1v4h-1zM643 522h1v4h-1zM646 522h1v4h-1zM649 522h1v4h-1zM652 522h1v4h-1zM654 522h1v4h-1zM657 522h1v4h-1zM660 522h1v4h-1zM662 522h1v4h-1zM665 522h1v4h-1zM668 522h1v4h-1zM671 522h1v4h-1zM674 522h1v4h-1zM676 522h1v4h-1zM679 522h1v4h-1zM682 522h1v4h-1zM684 522h1v4h-1zM687 522h1v4h-1zM690 522h1v4h-1zM693 522h1v4h-1zM696 522h1v4h-1zM698 522h1v4h-1zM701 522h1v4h-1zM704 522h1v4h-1zM706 522h1v4h-1zM709 522h1v4h-1zM712 522h1v4h-1zM715 522h1v4h-1zM718 522h1v4h-1z" fill="#fff"/>
<rect x="577.0" y="500.0" width="56" height="16" fill="#fff" stroke="#000" stroke-width="2" rx="3"/>
<text transform="matrix(0.75,0,0,1,581.4,512.5)" x="0" y="0" font-size="13" fill="#000" textLength="63.47" lengthAdjust="spacing">BANK 2</text>
<rect x="577.0" y="519.0" width="56" height="16" fill="#fff" stroke="#000" stroke-width="2" rx="3"/>
<text transform="matrix(0.75,0,0,1,581.4,531.2)" x="0" y="0" font-size="13" fill="#000" textLength="63.47" lengthAdjust="spacing">BANK 3</text>
<rect x="767.5" y="400.5" width="24" height="111" fill="#fff" stroke="#000" stroke-width="1" rx="0"/>
<rect x="783" y="400" width="1" height="112" fill="#000"/>
<rect x="770.5" y="406.5" width="7" height="6" fill="#fff" stroke="#000" stroke-width="1" rx="0"/>
<rect x="770.5" y="416.5" width="7" height="6" fill="#fff" stroke="#000" stroke-width="1" rx="0"/>
<rect x="770.5" y="425.5" width="7" height="6" fill="#fff" stroke="#000" stroke-width="1" rx="0"/>
<rect x="770.5" y="434.5" width="7" height="6" fill="#fff" stroke="#000" stroke-width="1" rx="0"/>
<rect x="770.5" y="444.5" width="7" height="6" fill="#fff" stroke="#000" stroke-width="1" rx="0"/>
<rect x="770.5" y="453.5" width="7" height="6" fill="#fff" stroke="#000" stroke-width="1" rx="0"/>
<rect x="770.5" y="462.5" width="7" height="6" fill="#fff" stroke="#000" stroke-width="1" rx="0"/>
<rect x="770.5" y="472.5" width="7" height="6" fill="#fff" stroke="#000" stroke-width="1" rx="0"/>
<rect x="770.5" y="481.5" width="7" height="6" fill="#fff" stroke="#000" stroke-width="1" rx="0"/>
<rect x="770.5" y="490.5" width="7" height="6" fill="#fff" stroke="#000" stroke-width="1" rx="0"/>
<rect x="770.5" y="500.5" width="7" height="6" fill="#fff" stroke="#000" stroke-width="1" rx="0"/>
<rect x="779" y="402" width="2" height="7" fill="#000"/>
<rect x="784.5" y="403.5" width="3" height="5" fill="#fff" stroke="#000" stroke-width="1" rx="0"/>
<rect x="784" y="403" width="2" height="6" fill="#000"/>
<rect x="785" y="404" width="1" height="4" fill="#fff"/>
<rect x="779" y="411" width="2" height="7" fill="#000"/>
<rect x="784.5" y="412.5" width="3" height="5" fill="#fff" stroke="#000" stroke-width="1" rx="0"/>
<rect x="784" y="412" width="2" height="6" fill="#000"/>
<rect x="785" y="413" width="1" height="4" fill="#fff"/>
<rect x="779" y="420" width="2" height="7" fill="#000"/>
<rect x="784.5" y="421.5" width="3" height="5" fill="#fff" stroke="#000" stroke-width="1" rx="0"/>
<rect x="784" y="421" width="2" height="6" fill="#000"/>
<rect x="785" y="422" width="1" height="4" fill="#fff"/>
<rect x="779" y="429" width="2" height="7" fill="#000"/>
<rect x="784.5" y="430.5" width="3" height="5" fill="#fff" stroke="#000" stroke-width="1" rx="0"/>
<rect x="784" y="430" width="2" height="6" fill="#000"/>
<rect x="785" y="431" width="1" height="4" fill="#fff"/>
<rect x="779" y="439" width="2" height="7" fill="#000"/>
<rect x="784.5" y="440.5" width="3" height="5" fill="#fff" stroke="#000" stroke-width="1" rx="0"/>
<rect x="784" y="440" width="2" height="6" fill="#000"/>
<rect x="785" y="441" width="1" height="4" fill="#fff"/>
<rect x="779" y="448" width="2" height="7" fill="#000"/>
<rect x="784.5" y="449.5" width="3" height="5" fill="#fff" stroke="#000" stroke-width="1" rx="0"/>
<rect x="784" y="449" width="2" height="6" fill="#000"/>
<rect x="785" y="450" width="1" height="4" fill="#fff"/>
<rect x="779" y="457" width="2" height="7" fill="#000"/>
<rect x="784.5" y="458.5" width="3" height="5" fill="#fff" stroke="#000" stroke-width="1" rx="0"/>
<rect x="784" y="458" width="2" height="6" fill="#000"/>
<rect x="785" y="459" width="1" height="4" fill="#fff"/>
<rect x="779" y="467" width="2" height="7" fill="#000"/>
<rect x="784.5" y="468.5" width="3" height="5" fill="#fff" stroke="#000" stroke-width="1" rx="0"/>
<rect x="784" y="468" width="2" height="6" fill="#000"/>
<rect x="785" y="469" width="1" height="4" fill="#fff"/>
<rect x="779" y="476" width="2" height="7" fill="#000"/>
<rect x="784.5" y="477.5" width="3" height="5" fill="#fff" stroke="#000" stroke-width="1" rx="0"/>
<rect x="784" y="477" width="2" height="6" fill="#000"/>
<rect x="785" y="478" width="1" height="4" fill="#fff"/>
<rect x="779" y="485" width="2" height="7" fill="#000"/>
<rect x="784.5" y="486.5" width="3" height="5" fill="#fff" stroke="#000" stroke-width="1" rx="0"/>
<rect x="784" y="486" width="2" height="6" fill="#000"/>
<rect x="785" y="487" width="1" height="4" fill="#fff"/>
<rect x="779" y="495" width="2" height="7" fill="#000"/>
<rect x="784.5" y="496.5" width="3" height="5" fill="#fff" stroke="#000" stroke-width="1" rx="0"/>
<rect x="784" y="496" width="2" height="6" fill="#000"/>
<rect x="785" y="497" width="1" height="4" fill="#fff"/>
<rect x="779" y="504" width="2" height="7" fill="#000"/>
<rect x="784.5" y="505.5" width="3" height="5" fill="#fff" stroke="#000" stroke-width="1" rx="0"/>
<rect x="784" y="505" width="2" height="6" fill="#000"/>
<rect x="785" y="506" width="1" height="4" fill="#fff"/>
<polygon points="834,417 838,417 838,468 834,468 834,465 831,465 831,461 807,461 807,454 804,454 804,430 807,430 807,424 831,424 831,420 834,420" fill="#000"/>
<rect x="800.5" y="433.5" width="4" height="7" fill="#fff" stroke="#000" stroke-width="1" rx="0"/>
<rect x="800.5" y="444.5" width="4" height="8" fill="#fff" stroke="#000" stroke-width="1" rx="0"/>
<rect x="805" y="441" width="2" height="3" fill="#fff"/>
<polygon points="176,54 222,54 225,57 225,59 222,62 176,62 173,59 173,57" fill="#000"/>
<path d="M177 56h4v4h-4zM183 56h4v4h-4zM189 56h4v4h-4zM195 56h4v4h-4zM200 56h4v4h-4zM206 56h4v4h-4zM212 56h4v4h-4zM218 56h4v4h-4z" fill="#fff"/>
<polygon points="176,62 222,62 225,65 225,67 222,70 176,70 173,67 173,65" fill="#000"/>
<path d="M177 64h4v4h-4zM183 64h4v4h-4zM189 64h4v4h-4zM195 64h4v4h-4zM200 64h4v4h-4zM206 64h4v4h-4zM212 64h4v4h-4zM218 64h4v4h-4z" fill="#fff"/>
<polygon points="176,70 222,70 225,73 225,75 222,78 176,78 173,75 173,73" fill="#000"/>
<path d="M177 72h4v4h-4zM183 72h4v4h-4zM189 72h4v4h-4zM195 72h4v4h-4zM200 72h4v4h-4zM206 72h4v4h-4zM212 72h4v4h-4zM218 72h4v4h-4z" fill="#fff"/>
<polygon points="176,78 222,78 225,81 225,83 222,86 176,86 173,83 173,81" fill="#000"/>
<path d="M177 80h4v4h-4zM183 80h4v4h-4zM189 80h4v4h-4zM195 80h4v4h-4zM200 80h4v4h-4zM206 80h4v4h-4zM212 80h4v4h-4zM218 80h4v4h-4z" fill="#fff"/>
<polygon points="176,86 222,86 225,89 225,91 222,94 176,94 173,91 173,89" fill="#000"/>
<path d="M177 88h4v4h-4zM183 88h4v4h-4zM189 88h4v4h-4zM195 88h4v4h-4zM200 88h4v4h-4zM206 88h4v4h-4zM212 88h4v4h-4zM218 88h4v4h-4z" fill="#fff"/>
<polygon points="764.8,521.0 800.2,521.0 803,523.8 803,525.8 800.2,528.6 764.8,528.6 762,525.8 762,523.8" fill="#000"/>
<path d="M766 523h4v4h-4zM772 523h4v4h-4zM778 523h4v4h-4zM784 523h4v4h-4zM789 523h4v4h-4zM795 523h4v4h-4z" fill="#fff"/>
<polygon points="764.8,528.6 800.2,528.6 803,531.4000000000001 803,533.4000000000001 800.2,536.2 764.8,536.2 762,533.4000000000001 762,531.4000000000001" fill="#000"/>
<path d="M766 530h4v4h-4zM772 530h4v4h-4zM778 530h4v4h-4zM784 530h4v4h-4zM789 530h4v4h-4zM795 530h4v4h-4z" fill="#fff"/>
<polygon points="764.8,536.2 800.2,536.2 803,539.0 803,541.0 800.2,543.8000000000001 764.8,543.8000000000001 762,541.0 762,539.0" fill="#000"/>
<path d="M766 538h4v4h-4zM772 538h4v4h-4zM778 538h4v4h-4zM784 538h4v4h-4zM789 538h4v4h-4zM795 538h4v4h-4z" fill="#fff"/>
<polygon points="764.8,543.8 800.2,543.8 803,546.5999999999999 803,548.5999999999999 800.2,551.4 764.8,551.4 762,548.5999999999999 762,546.5999999999999" fill="#000"/>
<path d="M766 546h4v4h-4zM772 546h4v4h-4zM778 546h4v4h-4zM784 546h4v4h-4zM789 546h4v4h-4zM795 546h4v4h-4z" fill="#fff"/>
<polygon points="764.8,551.4 800.2,551.4 803,554.2 803,556.2 800.2,559.0 764.8,559.0 762,556.2 762,554.2" fill="#000"/>
<path d="M766 553h4v4h-4zM772 553h4v4h-4zM778 553h4v4h-4zM784 553h4v4h-4zM789 553h4v4h-4zM795 553h4v4h-4z" fill="#fff"/>
<polygon points="395.5,188 419.5,188 422,190.5 422,192.5 419.5,195 395.5,195 393,192.5 393,190.5" fill="#000"/>
<path d="M397 190h3v3h-3zM403 190h3v3h-3zM409 190h3v3h-3zM415 190h3v3h-3z" fill="#fff"/>
<polygon points="396,197 419,197 422,200 422,202 419,205 396,205 393,202 393,200" fill="#000"/>
<path d="M397 200h3v3h-3zM403 200h3v3h-3zM409 200h3v3h-3zM415 200h3v3h-3z" fill="#fff"/>
<polygon points="526,269 574,269 577,272 577,274 574,277 526,277 523,274 523,272" fill="#000"/>
<path d="M527 271h4v4h-4zM532 271h4v4h-4zM538 271h4v4h-4zM544 271h4v4h-4zM550 271h4v4h-4zM556 271h4v4h-4zM561 271h4v4h-4zM567 271h4v4h-4z" fill="#fff"/>
<polygon points="526,277 574,277 577,280 577,282 574,285 526,285 523,282 523,280" fill="#000"/>
<path d="M527 279h4v4h-4zM532 279h4v4h-4zM538 279h4v4h-4zM544 279h4v4h-4zM550 279h4v4h-4zM556 279h4v4h-4zM561 279h4v4h-4zM567 279h4v4h-4z" fill="#fff"/>
<polygon points="136,535 206,535 209,538 209,540 206,543 136,543 133,540 133,538" fill="#000"/>
<path d="M137 537h4v4h-4zM143 537h4v4h-4zM148 537h4v4h-4zM154 537h4v4h-4zM160 537h4v4h-4zM166 537h4v4h-4zM172 537h4v4h-4zM178 537h4v4h-4zM184 537h4v4h-4zM189 537h4v4h-4zM195 537h4v4h-4zM201 537h4v4h-4z" fill="#fff"/>
<polygon points="213,535 284,535 287,538 287,540 284,543 213,543 210,540 210,538" fill="#000"/>
<path d="M214 537h4v4h-4zM220 537h4v4h-4zM226 537h4v4h-4zM232 537h4v4h-4zM237 537h4v4h-4zM243 537h4v4h-4zM249 537h4v4h-4zM255 537h4v4h-4zM261 537h4v4h-4zM267 537h4v4h-4zM272 537h4v4h-4zM278 537h4v4h-4z" fill="#fff"/>
<polygon points="135.5,548 206.5,548 209,550.5 209,552.5 206.5,555 135.5,555 133,552.5 133,550.5" fill="#000"/>
<path d="M137 550h4v4h-4zM143 550h4v4h-4zM148 550h4v4h-4zM154 550h4v4h-4zM160 550h4v4h-4zM166 550h4v4h-4zM172 550h4v4h-4zM178 550h4v4h-4zM184 550h4v4h-4zM189 550h4v4h-4zM195 550h4v4h-4zM201 550h4v4h-4z" fill="#fff"/>
<polygon points="212.5,548 284.5,548 287,550.5 287,552.5 284.5,555 212.5,555 210,552.5 210,550.5" fill="#000"/>
<path d="M214 550h4v4h-4zM220 550h4v4h-4zM226 550h4v4h-4zM232 550h4v4h-4zM237 550h4v4h-4zM243 550h4v4h-4zM249 550h4v4h-4zM255 550h4v4h-4zM261 550h4v4h-4zM267 550h4v4h-4zM272 550h4v4h-4zM278 550h4v4h-4z" fill="#fff"/>
<rect x="118.0" y="290" width="7.200000000000003" height="28" rx="3" fill="#000"/>
<path d="M120 294h4v4h-4zM120 299h4v4h-4zM120 305h4v4h-4zM120 311h4v4h-4z" fill="#fff"/>
<rect x="125.2" y="290" width="7.200000000000003" height="28" rx="3" fill="#000"/>
<path d="M127 294h4v4h-4zM127 299h4v4h-4zM127 305h4v4h-4zM127 311h4v4h-4z" fill="#fff"/>
<rect x="132.4" y="290" width="7.199999999999989" height="28" rx="3" fill="#000"/>
<path d="M134 294h4v4h-4zM134 299h4v4h-4zM134 305h4v4h-4zM134 311h4v4h-4z" fill="#fff"/>
<rect x="139.6" y="290" width="7.200000000000017" height="28" rx="3" fill="#000"/>
<path d="M141 294h4v4h-4zM141 299h4v4h-4zM141 305h4v4h-4zM141 311h4v4h-4z" fill="#fff"/>
<rect x="144.5" y="39.5" width="59" height="12" fill="#fff" stroke="#000" stroke-width="1" rx="0"/>
<path d="M146 41h4v4h-4zM146 46h4v4h-4zM152 41h4v4h-4zM152 46h4v4h-4zM158 41h4v4h-4zM158 46h4v4h-4zM163 41h4v4h-4zM163 46h4v4h-4zM169 41h4v4h-4zM169 46h4v4h-4zM175 41h4v4h-4zM175 46h4v4h-4zM181 41h4v4h-4zM181 46h4v4h-4zM187 41h4v4h-4zM187 46h4v4h-4zM192 41h4v4h-4zM192 46h4v4h-4zM198 41h4v4h-4z" fill="#000"/>
<rect x="198" y="46" width="4" height="4" fill="#000"/>
<rect x="199" y="47" width="2" height="2" fill="#fff"/>
<text transform="matrix(1.0,0,0,1,189,36.7)" x="0" y="0" font-size="10.5" fill="#000" textLength="11.00" lengthAdjust="spacing">11</text>
<rect x="130" y="41" width="7" height="13" fill="#000"/>
<rect x="135" y="42" width="1" height="11" fill="#fff"/>
<rect x="131" y="47" width="4" height="1" fill="#fff"/>
<rect x="67" y="83" width="7" height="13" fill="#000"/>
<rect x="69" y="89" width="3" height="1" fill="#fff"/>
<rect x="69" y="94" width="3" height="1" fill="#fff"/>
<rect x="80" y="83" width="7" height="13" fill="#000"/>
<rect x="82" y="89" width="3" height="1" fill="#fff"/>
<rect x="82" y="94" width="3" height="1" fill="#fff"/>
<rect x="92" y="83" width="7" height="13" fill="#000"/>
<rect x="94" y="89" width="3" height="1" fill="#fff"/>
<rect x="94" y="94" width="3" height="1" fill="#fff"/>
<rect x="103" y="83" width="7" height="13" fill="#000"/>
<rect x="105" y="89" width="3" height="1" fill="#fff"/>
<rect x="105" y="94" width="3" height="1" fill="#fff"/>
<rect x="113" y="83" width="7" height="13" fill="#000"/>
<rect x="115" y="89" width="3" height="1" fill="#fff"/>
<rect x="115" y="94" width="3" height="1" fill="#fff"/>
<rect x="71" y="85" width="1" height="10" fill="#fff"/>
<rect x="82" y="85" width="1" height="10" fill="#fff"/>
<rect x="96" y="85" width="1" height="10" fill="#fff"/>
<rect x="82.5" y="261.5" width="6" height="19" fill="#fff" stroke="#000" stroke-width="1" rx="0"/>
<rect x="84" y="263" width="4" height="5" fill="#000"/>
<rect x="84" y="269" width="4" height="5" fill="#000"/>
<rect x="84.5" y="275.5" width="3" height="3" fill="#fff" stroke="#000" stroke-width="1" rx="0"/>
<rect x="93.5" y="261.5" width="6" height="19" fill="#fff" stroke="#000" stroke-width="1" rx="0"/>
<rect x="95" y="263" width="4" height="5" fill="#000"/>
<rect x="95" y="269" width="4" height="5" fill="#000"/>
<rect x="95.5" y="275.5" width="3" height="3" fill="#fff" stroke="#000" stroke-width="1" rx="0"/>
<rect x="82.5" y="291.5" width="6" height="19" fill="#fff" stroke="#000" stroke-width="1" rx="0"/>
<rect x="84" y="293" width="4" height="5" fill="#000"/>
<rect x="84" y="299" width="4" height="5" fill="#000"/>
<rect x="84.5" y="305.5" width="3" height="3" fill="#fff" stroke="#000" stroke-width="1" rx="0"/>
<rect x="93.5" y="291.5" width="6" height="19" fill="#fff" stroke="#000" stroke-width="1" rx="0"/>
<rect x="95" y="293" width="4" height="5" fill="#000"/>
<rect x="95" y="299" width="4" height="5" fill="#000"/>
<rect x="95.5" y="305.5" width="3" height="3" fill="#fff" stroke="#000" stroke-width="1" rx="0"/>
<rect x="56" y="383" width="7" height="14" fill="#000"/>
<rect x="57" y="384" width="5" height="1" fill="#fff"/>
<rect x="61" y="384" width="1" height="12" fill="#fff"/>
<rect x="57" y="389" width="4" height="1" fill="#fff"/>
<rect x="271" y="464" width="19" height="6" fill="#000"/>
<rect x="272" y="465" width="1" height="4" fill="#fff"/>
<rect x="277" y="465" width="1" height="4" fill="#fff"/>
<rect x="283" y="465" width="1" height="4" fill="#fff"/>
<rect x="274" y="466" width="2" height="2" fill="#fff"/>
<rect x="271" y="481" width="19" height="7" fill="#000"/>
<rect x="272" y="482" width="1" height="5" fill="#fff"/>
<rect x="277" y="482" width="1" height="5" fill="#fff"/>
<rect x="283" y="482" width="1" height="5" fill="#fff"/>
<rect x="274" y="483" width="2" height="2" fill="#fff"/>
<rect x="385" y="476" width="7" height="14" fill="#000"/>
<rect x="386" y="477" width="5" height="1" fill="#fff"/>
<rect x="386" y="477" width="1" height="12" fill="#fff"/>
<rect x="386" y="483" width="5" height="1" fill="#fff"/>
<rect x="386" y="488" width="5" height="1" fill="#fff"/>
<rect x="801" y="273" width="19" height="6" fill="#000"/>
<rect x="806" y="274" width="2" height="4" fill="#fff"/>
<rect x="812" y="274" width="1" height="4" fill="#fff"/>
<rect x="815" y="275" width="2" height="2" fill="#fff"/>
<rect x="818" y="274" width="1" height="4" fill="#fff"/>
<rect x="800" y="306" width="14" height="7" fill="#000"/>
<rect x="801" y="307" width="12" height="1" fill="#fff"/>
<rect x="801" y="307" width="1" height="5" fill="#fff"/>
<rect x="807" y="308" width="1" height="4" fill="#fff"/>
<rect x="812" y="307" width="1" height="5" fill="#fff"/>
<rect x="758" y="333" width="7" height="26" fill="#000"/>
<rect x="759" y="334" width="5" height="1" fill="#fff"/>
<rect x="763" y="334" width="1" height="24" fill="#fff"/>
<rect x="759" y="340" width="4" height="1" fill="#fff"/>
<rect x="759" y="346" width="4" height="1" fill="#fff"/>
<rect x="759" y="351" width="4" height="1" fill="#fff"/>
<rect x="760" y="353" width="2" height="3" fill="#fff"/>
<rect x="759" y="357" width="5" height="1" fill="#fff"/>
<polyline points="247,323 255.5,330 255.5,410 262,416 255.5,422 255.5,521 250,528" fill="none" stroke="#000" stroke-width="1" stroke-linejoin="miter"/>
<polyline points="121,36 131,45" fill="none" stroke="#000" stroke-width="2.6" stroke-linejoin="miter"/>
<polyline points="213,31 203,40" fill="none" stroke="#000" stroke-width="2.6" stroke-linejoin="miter"/>
<polygon points="93.0,65 97.0,65 95.6,83 94.4,83" fill="#000"/>
<polyline points="66,73 80,83" fill="none" stroke="#000" stroke-width="2.6" stroke-linejoin="miter"/>
<polyline points="128,74 105,84" fill="none" stroke="#000" stroke-width="2.6" stroke-linejoin="miter"/>
<polygon points="52,88.5 52,93.5 69,89.6 69,88.4" fill="#000"/>
<polygon points="135,85.5 135,90.5 119,89.6 119,88.4" fill="#000"/>
<polyline points="241,41 224,57" fill="none" stroke="#000" stroke-width="2.6" stroke-linejoin="miter"/>
<polygon points="242,56.0 242,60.0 224,66.6 224,65.4" fill="#000"/>
<polygon points="241,71.5 241,76.5 224,73.6 224,72.4" fill="#000"/>
<polygon points="242,92.0 242,96.0 224,81.6 224,80.4" fill="#000"/>
<polygon points="222,92 225,92 229,105 228,111 222,111" fill="#000"/>
<polygon points="404.5,171 409.5,171 407.6,189 406.4,189" fill="#000"/>
<polygon points="404.5,222 409.5,222 407.6,205 406.4,205" fill="#000"/>
<polyline points="86,256 95,262" fill="none" stroke="#000" stroke-width="2.6" stroke-linejoin="miter"/>
<polygon points="68,267.5 68,272.5 83,270.6 83,269.4" fill="#000"/>
<polygon points="68,298.5 68,303.5 83,301.6 83,300.4" fill="#000"/>
<polyline points="80,318 100,309" fill="none" stroke="#000" stroke-width="2.6" stroke-linejoin="miter"/>
<polygon points="120.0,273 124.0,273 122.6,291 121.4,291" fill="#000"/>
<polyline points="150,276 139,291" fill="none" stroke="#000" stroke-width="2.6" stroke-linejoin="miter"/>
<polygon points="164,288.5 164,293.5 146,292.6 146,291.4" fill="#000"/>
<polyline points="118,326 131,318" fill="none" stroke="#000" stroke-width="2.6" stroke-linejoin="miter"/>
<polygon points="280.0,452 284.0,452 282.6,465 281.4,465" fill="#000"/>
<polygon points="280.0,499 284.0,499 282.6,487 281.4,487" fill="#000"/>
<polygon points="408,483.5 408,488.5 391,484.6 391,483.4" fill="#000"/>
<polyline points="300,530 287,537" fill="none" stroke="#000" stroke-width="2.6" stroke-linejoin="miter"/>
<polygon points="303,549.5 303,554.5 287,551.6 287,550.4" fill="#000"/>
<polyline points="120,534 133,539" fill="none" stroke="#000" stroke-width="2.6" stroke-linejoin="miter"/>
<polygon points="119,548.5 119,553.5 133,551.6 133,550.4" fill="#000"/>
<polyline points="512,266 524,273" fill="none" stroke="#000" stroke-width="2.6" stroke-linejoin="miter"/>
<polygon points="591,278.5 591,283.5 577,281.6 577,280.4" fill="#000"/>
<polyline points="803,264 810,274" fill="none" stroke="#000" stroke-width="2.6" stroke-linejoin="miter"/>
<polygon points="806.5,330 811.5,330 807.6,313 806.4,313" fill="#000"/>
<polygon points="758.5,376 763.5,376 761.6,359 760.4,359" fill="#000"/>
<polyline points="49,403 58,395" fill="none" stroke="#000" stroke-width="2.6" stroke-linejoin="miter"/>
<polyline points="808,505 796,522" fill="none" stroke="#000" stroke-width="2.6" stroke-linejoin="miter"/>
<polyline points="816,521 802,530" fill="none" stroke="#000" stroke-width="2.6" stroke-linejoin="miter"/>
<polygon points="825,536.5 825,541.5 803,538.6 803,537.4" fill="#000"/>
<polyline points="822,557 802,545" fill="none" stroke="#000" stroke-width="2.6" stroke-linejoin="miter"/>
<polyline points="815,578 800,553" fill="none" stroke="#000" stroke-width="2.6" stroke-linejoin="miter"/>
<rect x="99.0" y="20.0" width="24" height="16" fill="#fff" stroke="#000" stroke-width="2" rx="3"/>
<text transform="matrix(0.75,0,0,1,103.6,31)" x="0" y="0" font-size="13" fill="#000" textLength="17.33" lengthAdjust="spacing">J5</text>
<rect x="212.0" y="17.0" width="23" height="16" fill="#fff" stroke="#000" stroke-width="2" rx="3"/>
<text transform="matrix(0.75,0,0,1,215.5,28.8)" x="0" y="0" font-size="13" fill="#000" textLength="16.67" lengthAdjust="spacing">J4</text>
<rect x="75.0" y="49.0" width="41" height="16" fill="#fff" stroke="#000" stroke-width="2" rx="3"/>
<text transform="matrix(0.75,0,0,1,78.7,60.2)" x="0" y="0" font-size="13" fill="#000" textLength="37.73" lengthAdjust="spacing">JP13</text>
<rect x="27.0" y="57.0" width="40" height="17" fill="#fff" stroke="#000" stroke-width="2" rx="3"/>
<text transform="matrix(0.75,0,0,1,31,69)" x="0" y="0" font-size="13" fill="#000" textLength="38.67" lengthAdjust="spacing">JP12</text>
<rect x="126.0" y="58.0" width="39" height="17" fill="#fff" stroke="#000" stroke-width="2" rx="3"/>
<text transform="matrix(0.75,0,0,1,129,70.7)" x="0" y="0" font-size="13" fill="#000" textLength="38.13" lengthAdjust="spacing">JP14</text>
<rect x="12.0" y="83.0" width="40" height="15" fill="#fff" stroke="#000" stroke-width="2" rx="3"/>
<text transform="matrix(0.75,0,0,1,16,94)" x="0" y="0" font-size="13" fill="#000" textLength="38.67" lengthAdjust="spacing">JP11</text>
<rect x="135.0" y="80.0" width="39" height="16" fill="#fff" stroke="#000" stroke-width="2" rx="3"/>
<text transform="matrix(0.75,0,0,1,138,92.5)" x="0" y="0" font-size="13" fill="#000" textLength="38.00" lengthAdjust="spacing">JP15</text>
<rect x="239.0" y="26.0" width="33" height="17" fill="#fff" stroke="#000" stroke-width="2" rx="3"/>
<text transform="matrix(0.75,0,0,1,243,39)" x="0" y="0" font-size="13" fill="#000" textLength="30.67" lengthAdjust="spacing">RN5</text>
<rect x="242.0" y="46.0" width="33" height="16" fill="#fff" stroke="#000" stroke-width="2" rx="3"/>
<text transform="matrix(0.75,0,0,1,246.8,58)" x="0" y="0" font-size="13" fill="#000" textLength="30.93" lengthAdjust="spacing">RN4</text>
<rect x="241.0" y="66.0" width="34" height="16" fill="#fff" stroke="#000" stroke-width="2" rx="3"/>
<text transform="matrix(0.75,0,0,1,245,79)" x="0" y="0" font-size="13" fill="#000" textLength="30.67" lengthAdjust="spacing">RN3</text>
<rect x="242.0" y="87.0" width="33" height="16" fill="#fff" stroke="#000" stroke-width="2" rx="3"/>
<text transform="matrix(0.75,0,0,1,246,100)" x="0" y="0" font-size="13" fill="#000" textLength="30.67" lengthAdjust="spacing">RN2</text>
<rect x="212.0" y="110.0" width="32" height="16" fill="#fff" stroke="#000" stroke-width="2" rx="3"/>
<text transform="matrix(0.75,0,0,1,215.9,121.5)" x="0" y="0" font-size="13" fill="#000" textLength="30.53" lengthAdjust="spacing">RN1</text>
<rect x="113.25" y="160.25" width="33.5" height="18.5" fill="#fff" stroke="#000" stroke-width="2.5" rx="3"/>
<text transform="matrix(0.75,0,0,1,115,173.8)" x="0" y="0" font-size="14" fill="#000" textLength="34.67" lengthAdjust="spacing">CPU</text>
<rect x="266.0" y="153.0" width="29" height="16" fill="#fff" stroke="#000" stroke-width="2" rx="3"/>
<text transform="matrix(0.75,0,0,1,268,166)" x="0" y="0" font-size="11.5" fill="#000" textLength="30.27" lengthAdjust="spacing">CPU</text>
<rect x="387.0" y="154.0" width="41" height="17" fill="#fff" stroke="#000" stroke-width="2" rx="3"/>
<text transform="matrix(0.75,0,0,1,390.7,165.5)" x="0" y="0" font-size="13" fill="#000" textLength="40.93" lengthAdjust="spacing">RN13</text>
<rect x="386.0" y="222.0" width="41" height="17" fill="#fff" stroke="#000" stroke-width="2" rx="3"/>
<text transform="matrix(0.75,0,0,1,391.7,235.7)" x="0" y="0" font-size="13" fill="#000" textLength="40.67" lengthAdjust="spacing">RN12</text>
<rect x="57.0" y="239.0" width="32" height="16" fill="#fff" stroke="#000" stroke-width="2" rx="3"/>
<text transform="matrix(0.75,0,0,1,61,250)" x="0" y="0" font-size="13" fill="#000" textLength="28.53" lengthAdjust="spacing">JP5</text>
<rect x="34.0" y="262.0" width="34" height="17" fill="#fff" stroke="#000" stroke-width="2" rx="3"/>
<text transform="matrix(0.75,0,0,1,38,274)" x="0" y="0" font-size="13" fill="#000" textLength="30.67" lengthAdjust="spacing">JP4</text>
<rect x="34.0" y="293.0" width="34" height="16" fill="#fff" stroke="#000" stroke-width="2" rx="3"/>
<text transform="matrix(0.75,0,0,1,38.6,304.2)" x="0" y="0" font-size="13" fill="#000" textLength="28.53" lengthAdjust="spacing">JP2</text>
<rect x="50.0" y="315.0" width="30" height="16" fill="#fff" stroke="#000" stroke-width="2" rx="3"/>
<text transform="matrix(0.75,0,0,1,54,327)" x="0" y="0" font-size="13" fill="#000" textLength="28.00" lengthAdjust="spacing">JP3</text>
<rect x="103.0" y="258.0" width="40" height="15" fill="#fff" stroke="#000" stroke-width="2" rx="3"/>
<text transform="matrix(0.75,0,0,1,107,269)" x="0" y="0" font-size="13" fill="#000" textLength="40.00" lengthAdjust="spacing">RN55</text>
<rect x="146.0" y="262.0" width="40" height="15" fill="#fff" stroke="#000" stroke-width="2" rx="3"/>
<text transform="matrix(0.75,0,0,1,149.2,274)" x="0" y="0" font-size="13" fill="#000" textLength="43.73" lengthAdjust="spacing">RN42</text>
<rect x="165.0" y="283.0" width="36" height="14" fill="#fff" stroke="#000" stroke-width="2" rx="3"/>
<text transform="matrix(0.75,0,0,1,166.2,293.3)" x="0" y="0" font-size="13" fill="#000" textLength="43.73" lengthAdjust="spacing">RN41</text>
<rect x="82.0" y="325.0" width="38" height="16" fill="#fff" stroke="#000" stroke-width="2" rx="3"/>
<text transform="matrix(0.75,0,0,1,85.7,338.2)" x="0" y="0" font-size="13" fill="#000" textLength="40.80" lengthAdjust="spacing">RN52</text>
<rect x="269.0" y="409.0" width="49" height="17" fill="#fff" stroke="#000" stroke-width="2" rx="3"/>
<text transform="matrix(0.75,0,0,1,272.3,420.5)" x="0" y="0" font-size="13" fill="#000" textLength="58.27" lengthAdjust="spacing">CACHE</text>
<rect x="267.0" y="436.0" width="32" height="16" fill="#fff" stroke="#000" stroke-width="2" rx="3"/>
<text transform="matrix(0.75,0,0,1,270.4,449.2)" x="0" y="0" font-size="13" fill="#000" textLength="29.87" lengthAdjust="spacing">JP7</text>
<rect x="267.0" y="499.0" width="32" height="16" fill="#fff" stroke="#000" stroke-width="2" rx="3"/>
<text transform="matrix(0.75,0,0,1,271,511)" x="0" y="0" font-size="13" fill="#000" textLength="29.33" lengthAdjust="spacing">JP8</text>
<rect x="408.0" y="478.0" width="24" height="16" fill="#fff" stroke="#000" stroke-width="2" rx="3"/>
<text transform="matrix(0.75,0,0,1,412,490)" x="0" y="0" font-size="13" fill="#000" textLength="20.00" lengthAdjust="spacing">W3</text>
<rect x="84.0" y="521.0" width="39" height="16" fill="#fff" stroke="#000" stroke-width="2" rx="3"/>
<text transform="matrix(0.75,0,0,1,86.6,532.1)" x="0" y="0" font-size="13" fill="#000" textLength="42.40" lengthAdjust="spacing">RN33</text>
<rect x="78.0" y="543.0" width="40" height="16" fill="#fff" stroke="#000" stroke-width="2" rx="3"/>
<text transform="matrix(0.75,0,0,1,82,555.2)" x="0" y="0" font-size="13" fill="#000" textLength="40.53" lengthAdjust="spacing">RN25</text>
<rect x="298.0" y="518.0" width="38" height="15" fill="#fff" stroke="#000" stroke-width="2" rx="3"/>
<text transform="matrix(0.75,0,0,1,301.6,528)" x="0" y="0" font-size="13" fill="#000" textLength="43.07" lengthAdjust="spacing">RN50</text>
<rect x="303.0" y="544.0" width="39" height="16" fill="#fff" stroke="#000" stroke-width="2" rx="3"/>
<text transform="matrix(0.75,0,0,1,306.5,556)" x="0" y="0" font-size="13" fill="#000" textLength="43.73" lengthAdjust="spacing">RN40</text>
<rect x="474.0" y="251.0" width="39" height="15" fill="#fff" stroke="#000" stroke-width="2" rx="3"/>
<text transform="matrix(0.75,0,0,1,478,262)" x="0" y="0" font-size="13" fill="#000" textLength="38.67" lengthAdjust="spacing">RA12</text>
<rect x="591.0" y="273.0" width="34" height="15" fill="#fff" stroke="#000" stroke-width="2" rx="3"/>
<text transform="matrix(0.75,0,0,1,597,285.8)" x="0" y="0" font-size="13" fill="#000" textLength="29.33" lengthAdjust="spacing">RA6</text>
<rect x="771.0" y="249.0" width="33" height="16" fill="#fff" stroke="#000" stroke-width="2" rx="3"/>
<text transform="matrix(0.75,0,0,1,776.8,260.7)" x="0" y="0" font-size="13" fill="#000" textLength="26.93" lengthAdjust="spacing">JP9</text>
<rect x="788.0" y="330.0" width="42" height="17" fill="#fff" stroke="#000" stroke-width="2" rx="3"/>
<text transform="matrix(0.75,0,0,1,793,340.5)" x="0" y="0" font-size="13" fill="#000" textLength="37.33" lengthAdjust="spacing">JP10</text>
<rect x="750.0" y="376.0" width="24" height="16" fill="#fff" stroke="#000" stroke-width="2" rx="3"/>
<text transform="matrix(0.75,0,0,1,754,388)" x="0" y="0" font-size="13" fill="#000" textLength="17.33" lengthAdjust="spacing">J9</text>
<rect x="21.0" y="403.0" width="31" height="16" fill="#fff" stroke="#000" stroke-width="2" rx="3"/>
<text transform="matrix(0.75,0,0,1,22.8,415.6)" x="0" y="0" font-size="13" fill="#000" textLength="28.93" lengthAdjust="spacing">JP6</text>
<rect x="806.0" y="491.0" width="38" height="16" fill="#fff" stroke="#000" stroke-width="2" rx="3"/>
<text transform="matrix(0.75,0,0,1,808.2,502.7)" x="0" y="0" font-size="13" fill="#000" textLength="42.40" lengthAdjust="spacing">RN11</text>
<rect x="815.0" y="511.0" width="39" height="15" fill="#fff" stroke="#000" stroke-width="2" rx="3"/>
<text transform="matrix(0.75,0,0,1,817.3,522.4)" x="0" y="0" font-size="13" fill="#000" textLength="42.53" lengthAdjust="spacing">RN10</text>
<rect x="824.0" y="531.0" width="34" height="16" fill="#fff" stroke="#000" stroke-width="2" rx="3"/>
<text transform="matrix(0.75,0,0,1,827.4,542.4)" x="0" y="0" font-size="13" fill="#000" textLength="30.13" lengthAdjust="spacing">RN9</text>
<rect x="821.0" y="552.0" width="33" height="15" fill="#fff" stroke="#000" stroke-width="2" rx="3"/>
<text transform="matrix(0.75,0,0,1,824.6,562.5)" x="0" y="0" font-size="13" fill="#000" textLength="31.60" lengthAdjust="spacing">RN8</text>
<rect x="814.0" y="571.0" width="31" height="15" fill="#fff" stroke="#000" stroke-width="2" rx="3"/>
<text transform="matrix(0.75,0,0,1,817,581.2)" x="0" y="0" font-size="13" fill="#000" textLength="30.67" lengthAdjust="spacing">RN7</text>
<text transform="matrix(0.75,0,0,1,650,68)" x="0" y="0" font-size="12" fill="#000" textLength="57.33" lengthAdjust="spacing">MH2415</text>
</svg>
</body></html>
